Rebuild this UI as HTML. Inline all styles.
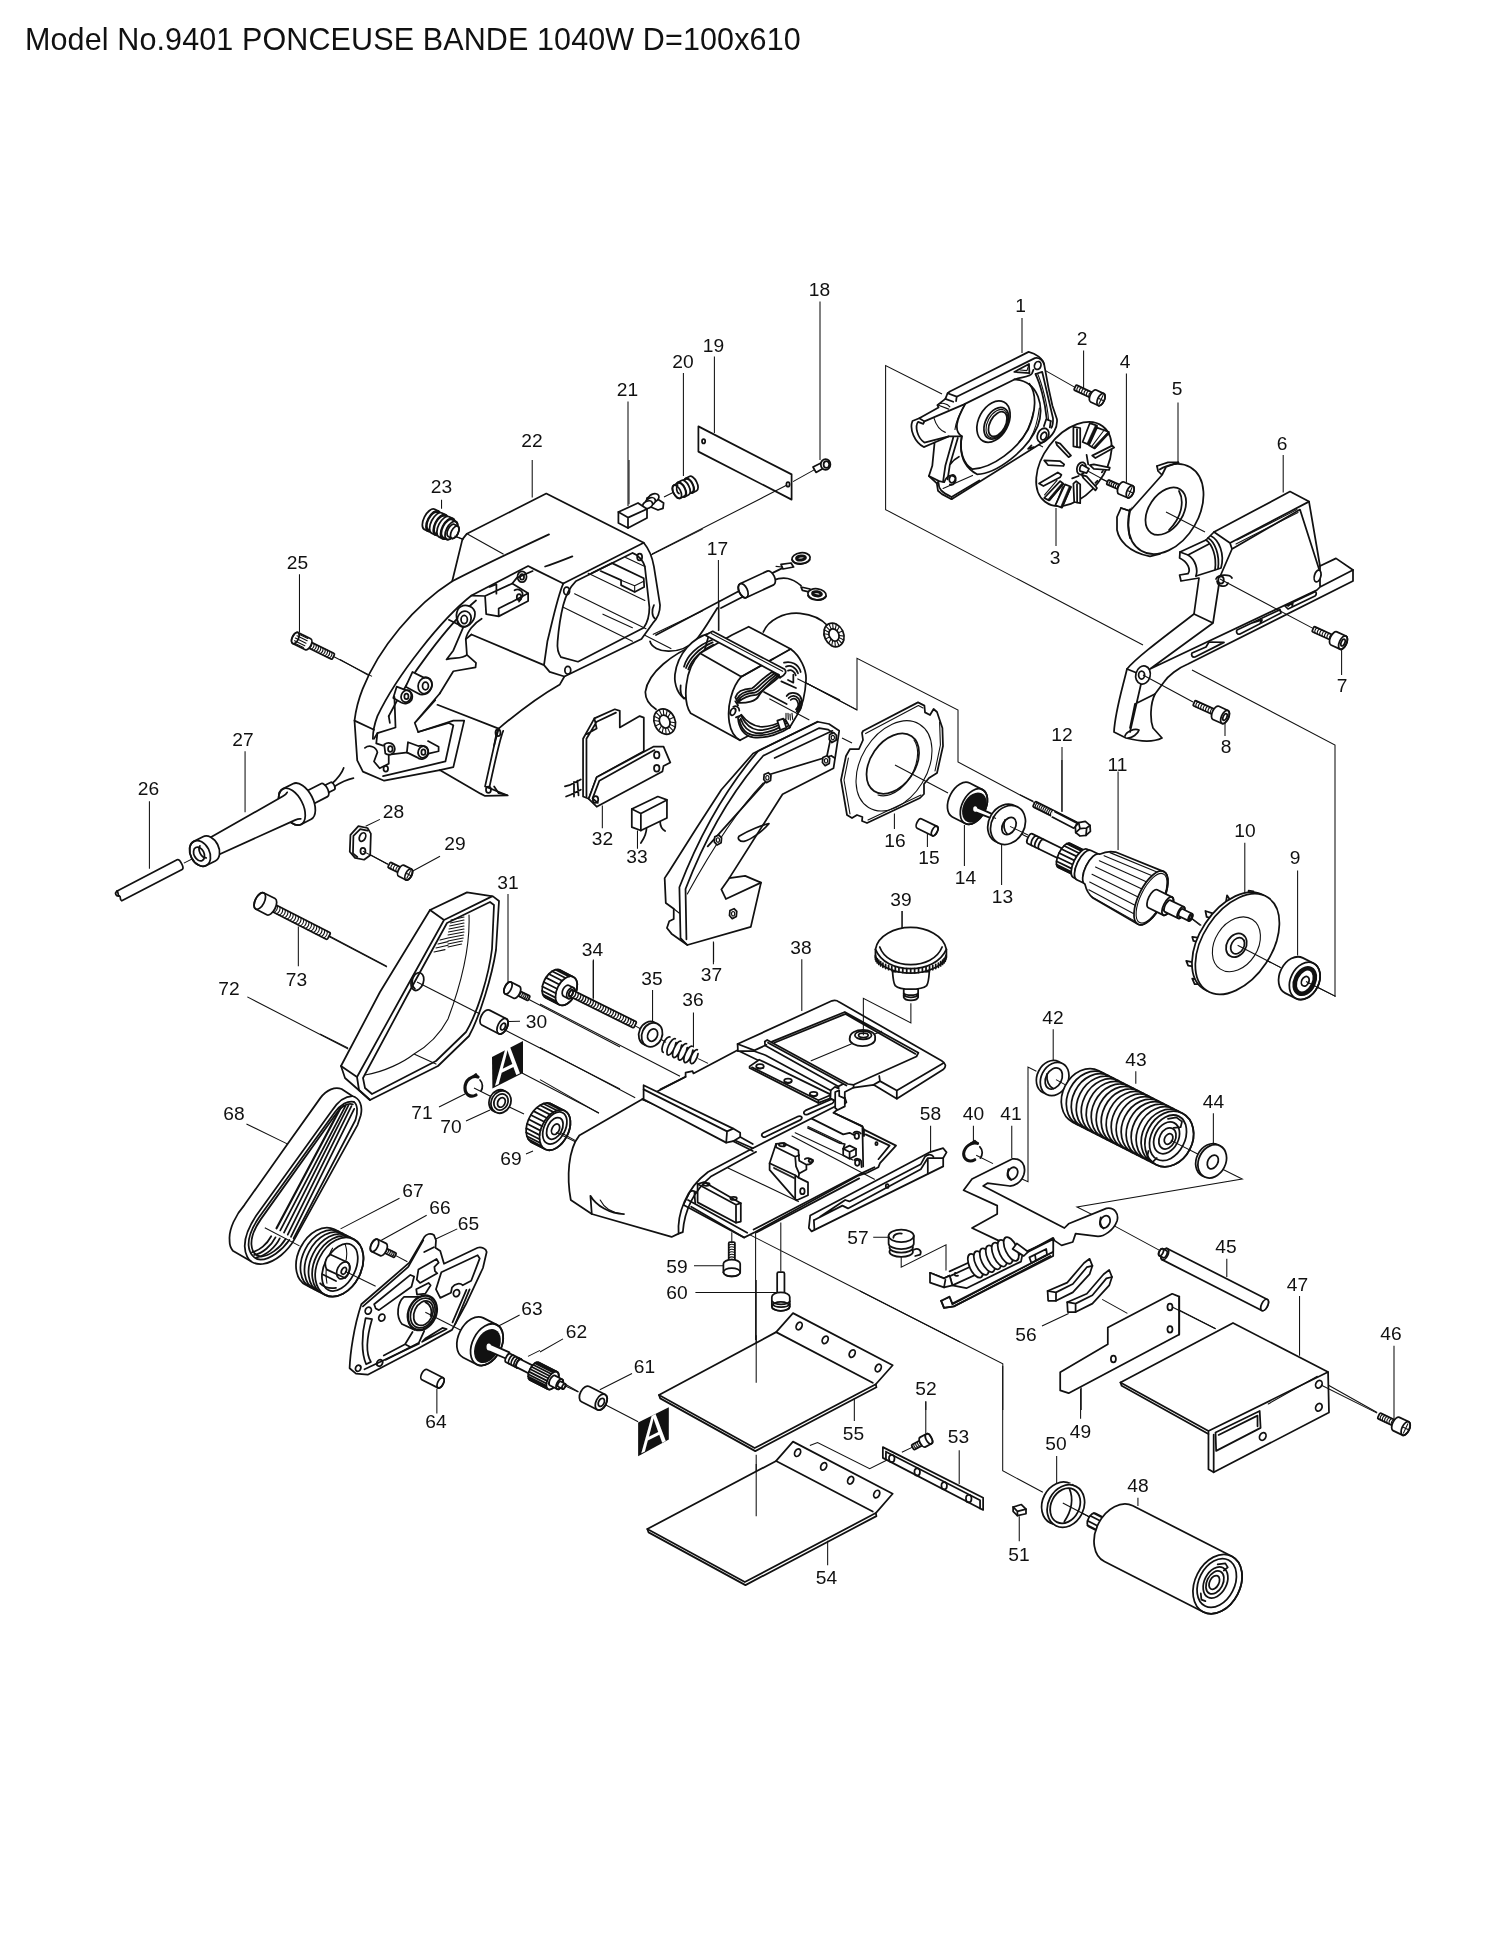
<!DOCTYPE html>
<html lang="fr"><head><meta charset="utf-8"><title>Model No.9401 PONCEUSE BANDE 1040W D=100x610</title>
<style>
html,body{margin:0;padding:0;background:#fff}
body{width:1500px;height:1954px;overflow:hidden;font-family:"Liberation Sans","DejaVu Sans",sans-serif;color:#1a1a1a}
h1{position:absolute;left:25px;top:18.5px;margin:0;font-weight:400;font-size:30.5px;line-height:40px;white-space:nowrap;will-change:transform;letter-spacing:.12px;color:#111}
svg{position:absolute;left:0;top:0;will-change:transform}
svg *{vector-effect:non-scaling-stroke}
.o{fill:#fff;stroke:#111;stroke-width:1.75;stroke-linejoin:round;stroke-linecap:round}
.n{fill:none;stroke:#111;stroke-width:1.75;stroke-linejoin:round;stroke-linecap:round}
.t{fill:none;stroke:#111;stroke-width:1.1;stroke-linejoin:round;stroke-linecap:round}
.tw{fill:#fff;stroke:#111;stroke-width:1.1;stroke-linejoin:round;stroke-linecap:round}
.l{fill:none;stroke:#111;stroke-width:1.05;stroke-linecap:butt}
.k{fill:#111;stroke:#111;stroke-width:.6;stroke-linejoin:round}
.h{fill:none;stroke:#111;stroke-width:2.2;stroke-linecap:round;stroke-linejoin:round}
.b{fill:#111;stroke:none}
.w{fill:#fff;stroke:none}
text{font-family:"Liberation Sans","DejaVu Sans",sans-serif;font-size:19.2px;fill:#111;text-anchor:middle}
</style></head><body>
<h1>Model No.9401 PONCEUSE BANDE 1040W D=100x610</h1>
<svg width="1500" height="1954" viewBox="0 0 1500 1954">
<g transform="translate(880,280) scale(0.2)">
<!-- bracket + leaders -->
<path class="l" d="M310,570 L28,428 L28,1148 L1315,1825"/>
<path class="l" d="M710,190 L710,365 M1018,352 L1018,545 M1232,468 L1232,1012 M880,1140 L880,1330 M1490,612 L1490,915"/>
<path class="l" d="M790,432 L975,537 M585,712 L815,835 M1000,945 L1140,1010"/>
<g transform="translate(975,537) rotate(25.14)">
<path class="o" d="M101.6,-14 L5.6,-14 Q0,-14 0,-8.4 L0,8.4 Q0,14 5.6,14 L101.6,14"/>
<path class="t" d="M16.8,-14 Q7.0,0 16.8,14 M30.1,-14 Q20.3,0 30.1,14 M43.4,-14 Q33.6,0 43.4,14 M56.7,-14 Q46.9,0 56.7,14 M70.0,-14 Q60.2,0 70.0,14 M83.3,-14 Q73.5,0 83.3,14 M96.6,-14 Q86.8,0 96.6,14 "/>
<path class="o" d="M101.6,-33 L143.6,-33 A16.5,33 0 0 1 143.6,33 L101.6,33 A16.5,33 0 0 1 101.6,-33 Z"/>
<ellipse class="n" cx="143.6" cy="0" rx="16.5" ry="33"/>
<path class="t" d="M132.05,0 L155.15,0 M143.6,-23.1 L143.6,23.1"/>
</g>
</g>
<g transform="translate(1100,400) scale(0.2)">
<!-- leaders/axes -->
<path class="l" d="M916,275 L916,462 M1208,1240 L1208,1375 M625,1610 L625,1680"/>
<path class="l" d="M460,1350 L1175,1725 L1175,2982"/>
<!-- part 5 baffle -->
<path class="o" d="M285,330 L340,312 L392,312 L330,340 L310,375 L150,555 L105,540 L85,585 L85,650 C95,700 140,760 250,782 L300,770 Z"/>
<ellipse class="o" cx="329" cy="545" rx="166" ry="242" transform="rotate(30.5 329 545)"/>
<path class="w" d="M300,355 L150,545 L100,500 L250,300 Z"/>
<path class="n" d="M392,312 L330,335 L310,375 L150,555 L105,540 M285,330 L290,355 L310,375 M150,555 C140,600 140,650 150,690"/>
<ellipse class="o" cx="329" cy="556" rx="85" ry="131" transform="rotate(34 329 556)"/>
<path class="n" d="M395,455 C420,500 415,580 345,650"/>
<!-- part 6 handle -->
<path class="o" d="M570,660 L950,458 L1045,508 L1100,830 L1180,792 L1265,850 L1265,905 L440,1320 C390,1340 340,1380 320,1410 L275,1470 C250,1520 250,1600 265,1640 L310,1690 C270,1710 200,1708 130,1690 L70,1660 C75,1560 110,1450 135,1345 C180,1290 300,1200 470,1070 L495,890 L405,905 L398,875 L440,868 C455,850 440,810 398,790 L400,760 L530,700 Z"/>
<path class="n" d="M570,660 L650,715 L1045,508 M650,715 L660,745 L595,895 M660,745 L1000,548 L1095,845"/>
<path class="t" d="M685,700 L985,548 M680,720 L990,562"/>
<path class="n" d="M530,700 C560,720 585,780 575,850 M555,680 C595,700 625,770 605,840 L575,850 L480,880 M540,690 C575,710 600,775 590,845"/>
<path class="n" d="M400,760 L440,775 C480,800 490,850 480,880 M440,775 L545,720"/>
<path class="n" d="M595,920 L565,1115 L470,1070 M565,1115 L250,1345 M1100,830 L1100,935 L1265,850 M1100,935 L1085,950 L250,1345"/>
<ellipse class="o" cx="1088" cy="880" rx="16" ry="30" transform="rotate(15 1088 880)"/>
<path class="n" d="M580,895 C590,870 650,870 660,890 M585,905 C590,935 630,940 640,915"/>
<ellipse class="o" cx="605" cy="900" rx="14" ry="18"/>
<path class="n" d="M925,1030 L1075,958 C1085,960 1082,975 1075,980 L940,1045 Z M940,1030 L965,1010 L960,1035"/>
<path class="n" d="M685,1150 L900,1048 L905,1065 L700,1170 C685,1175 680,1160 685,1150 Z M760,1115 L810,1100 L800,1118"/>
<path class="n" d="M460,1265 L530,1235 L545,1210 L620,1212 L475,1285 C460,1288 455,1275 460,1265 Z"/>
<path class="n" d="M135,1345 L185,1365 M205,1420 L150,1660 M175,1520 L275,1470 M175,1520 L150,1640"/>
<ellipse class="o" cx="215" cy="1375" rx="36" ry="46" transform="rotate(15 215 1375)"/>
<ellipse class="o" cx="208" cy="1375" rx="15" ry="20"/>
<path class="n" d="M125,1680 C130,1660 170,1640 195,1650 C190,1670 160,1690 140,1690"/>
<path class="l" d="M330,560 L525,660 M600,895 L1065,1142 M215,1375 L465,1510"/>
<g transform="translate(1065,1145) rotate(24.39)">
<path class="o" d="M114.694,-14 L5.6,-14 Q0,-14 0,-8.4 L0,8.4 Q0,14 5.6,14 L114.694,14"/>
<path class="t" d="M16.8,-14 Q7.0,0 16.8,14 M30.1,-14 Q20.3,0 30.1,14 M43.4,-14 Q33.6,0 43.4,14 M56.7,-14 Q46.9,0 56.7,14 M70.0,-14 Q60.2,0 70.0,14 M83.3,-14 Q73.5,0 83.3,14 M96.6,-14 Q86.8,0 96.6,14 M109.9,-14 Q100.1,0 109.9,14 "/>
<path class="o" d="M114.694,-36 L164.694,-36 A18,36 0 0 1 164.694,36 L114.694,36 A18,36 0 0 1 114.694,-36 Z"/>
<ellipse class="n" cx="164.694" cy="0" rx="18" ry="36"/>
<ellipse class="n" cx="164.694" cy="0" rx="9" ry="18"/>
</g>
<g transform="translate(470,1515) rotate(24.30)">
<path class="o" d="M120.074,-14 L5.6,-14 Q0,-14 0,-8.4 L0,8.4 Q0,14 5.6,14 L120.074,14"/>
<path class="t" d="M16.8,-14 Q7.0,0 16.8,14 M30.1,-14 Q20.3,0 30.1,14 M43.4,-14 Q33.6,0 43.4,14 M56.7,-14 Q46.9,0 56.7,14 M70.0,-14 Q60.2,0 70.0,14 M83.3,-14 Q73.5,0 83.3,14 M96.6,-14 Q86.8,0 96.6,14 M109.9,-14 Q100.1,0 109.9,14 "/>
<path class="o" d="M120.074,-36 L170.074,-36 A18,36 0 0 1 170.074,36 L120.074,36 A18,36 0 0 1 120.074,-36 Z"/>
<ellipse class="n" cx="170.074" cy="0" rx="18" ry="36"/>
<ellipse class="n" cx="170.074" cy="0" rx="9" ry="18"/>
</g>
</g>
<g transform="translate(1000,760) scale(0.24)">
<path class="l" d="M1020,345 L1020,555 M1240,460 L1240,815 M492,48 L492,375 M258,0 L258,215"/>
<path class="l" d="M1398,985 L1290,930 M990,772 L1170,865 M790,655 L835,690"/>
<!-- part 10 -->
<g transform="translate(-14,-7)">
<path class="o" transform="translate(20,6)" d="M940,565 L950,580 L965,588 L958,600 L935,595 Z M850,630 L880,640 L872,660 L855,655 Z M795,738 L825,742 L822,760 L800,755 Z M770,838 L805,845 L805,862 L778,858 Z M795,912 L825,915 L830,935 L805,935 Z M1030,545 L1050,548 L1050,560 L1030,560 Z"/>
<ellipse class="o" cx="989" cy="767" rx="143.5" ry="232" transform="rotate(33.4 989 767)"/>
</g>
<ellipse class="o" cx="989" cy="767" rx="143.5" ry="232" transform="rotate(33.4 989 767)"/>
<ellipse class="t" cx="985" cy="768" rx="89" ry="123" transform="rotate(32.8 985 768)"/>
<ellipse class="n" cx="985" cy="772" rx="40" ry="52" transform="rotate(30 985 772)"/>
<ellipse class="n" cx="990" cy="774" rx="26" ry="36" transform="rotate(30 990 774)"/>
<path class="l" d="M990,772 L1170,865"/>
<!-- part 9 bearing -->
<g transform="translate(1225,898) rotate(26.5)">
<path class="o" d="M0,-82 L50,-82 A59.04,82 0 0 1 50,82 L0,82 A59.04,82 0 0 1 0,-82 Z"/>
<ellipse class="n" cx="50" cy="0" rx="59.04" ry="82"/>
</g>
<ellipse cx="1270" cy="921" rx="38" ry="56" transform="rotate(26.5 1270 921)" style="fill:#fff;stroke:#111;stroke-width:4.6"/>
<ellipse class="o" cx="1272" cy="922" rx="15" ry="21" transform="rotate(26.5 1272 922)"/>
<path class="l" d="M1398,985 L1275,923"/>
</g>
<g transform="translate(1020,780) scale(0.133333)">
<path class="l" d="M0,110 L100,160 M0,400 L70,435"/>
<!-- part 12 bolt -->
<g transform="translate(105,180) rotate(26.63)">
<path class="o" d="M374.765,-22 L8.8,-22 Q0,-22 0,-13.2 L0,13.2 Q0,22 8.8,22 L374.765,22"/>
<path class="t" d="M21.5,-22 Q6.1,0 21.5,22 M37.5,-22 Q22.1,0 37.5,22 M53.5,-22 Q38.1,0 53.5,22 M69.5,-22 Q54.1,0 69.5,22 M85.5,-22 Q70.1,0 85.5,22 M101.5,-22 Q86.1,0 101.5,22 M117.5,-22 Q102.1,0 117.5,22 M133.5,-22 Q118.1,0 133.5,22 M149.5,-22 Q134.1,0 149.5,22 M165.5,-22 Q150.1,0 165.5,22 M181.5,-22 Q166.1,0 181.5,22 M197.5,-22 Q182.1,0 197.5,22 M213.5,-22 Q198.1,0 213.5,22 M229.5,-22 Q214.1,0 229.5,22 M245.5,-22 Q230.1,0 245.5,22 M261.5,-22 Q246.1,0 261.5,22 M277.5,-22 Q262.1,0 277.5,22 M293.5,-22 Q278.1,0 293.5,22 M309.5,-22 Q294.1,0 309.5,22 M325.5,-22 Q310.1,0 325.5,22 M341.5,-22 Q326.1,0 341.5,22 M357.5,-22 Q342.1,0 357.5,22 M373.5,-22 Q358.1,0 373.5,22 "/>
<path class="o" d="M374.765,-22 L374.765,-22 A11,22 0 0 1 374.765,22 L374.765,22 A11,22 0 0 1 374.765,-22 Z"/>
<ellipse class="n" cx="374.765" cy="0" rx="11" ry="22"/>
</g>
<path class="w" d="M250,230 L420,320 L400,360 L230,275 Z"/>
<path class="n" d="M262,238 L425,322 M242,278 L400,360"/>
<path class="o" d="M440,320 L490,310 L525,340 L528,385 L495,415 L450,420 L418,395 L415,350 Z"/>
<path class="n" d="M440,320 L450,365 L418,395 M450,365 L500,360 L525,340 M500,360 L495,415"/>
<!-- part 11 armature -->
<g transform="translate(75,440) rotate(26.1)">
<path class="o" d="M0,-40 L300,-40 A16.8,40 0 0 1 300,40 L0,40 A16.8,40 0 0 1 0,-40 Z"/>
<ellipse class="n" cx="300" cy="0" rx="16.8" ry="40"/>
</g>
<g transform="translate(75,440) rotate(26.1)"><path class="n" d="M35,-40 A16.8,40 0 0 0 35,40 M65,-40 A16.8,40 0 0 0 65,40 M95,-40 A16.8,40 0 0 0 95,40 "/></g>
<g transform="translate(75,440) rotate(26.1)">
<path class="o" d="M285,-100 L420,-100 A42,100 0 0 1 420,100 L285,100 A42,100 0 0 1 285,-100 Z"/>
<ellipse class="n" cx="420" cy="0" rx="42" ry="100"/>
</g>
<g transform="translate(75,440) rotate(26.1)"><path class="n" d="M277.7,-98.5 L412.7,-98.5 M264.0,-86.6 L399.0,-86.6 M252.8,-64.3 L387.8,-64.3 M245.5,-34.2 L380.5,-34.2 M243.0,0.0 L378.0,0.0 M245.5,34.2 L380.5,34.2 M252.8,64.3 L387.8,64.3 M264.0,86.6 L399.0,86.6 M277.7,98.5 L412.7,98.5 "/></g>
<g transform="translate(75,440) rotate(26.1)">
<path class="o" d="M420,-118 L450,-118 A49.56,118 0 0 1 450,118 L420,118 A49.56,118 0 0 1 420,-118 Z"/>
<ellipse class="n" cx="450" cy="0" rx="49.56" ry="118"/>
<path class="o" d="M450,-122 L520,-122 A51.24,122 0 0 1 520,122 L450,122 A51.24,122 0 0 1 450,-122 Z"/>
<ellipse class="n" cx="520" cy="0" rx="51.24" ry="122"/>
</g>
<g transform="translate(75,440) rotate(26.1)">
<path class="o" d="M520,-125 C540,-150 570,-180 620,-192 L1010,-220 A92,220 0 0 1 1010,220 L620,192 C570,180 540,150 520,125 A52,125 0 0 1 520,-125 Z"/>
<ellipse class="n" cx="1010" cy="0" rx="92" ry="220"/>
<ellipse class="t" cx="1015" cy="0" rx="82" ry="203"/>
<path class="t" d="M585,-170 L965,-194 M555,-130 L940,-153 M540,-80 L925,-94 M535,-25 L920,-30 M535,35 L920,36 M545,95 L927,102 M565,150 L943,163 M610,188 L975,209"/>
</g>
<g transform="translate(75,440) rotate(26.1)">
<path class="o" d="M1025,-75 L1150,-75 A31.5,75 0 0 1 1150,75 L1025,75 A31.5,75 0 0 1 1025,-75 Z"/>
<ellipse class="n" cx="1150" cy="0" rx="31.5" ry="75"/>
<path class="o" d="M1150,-48 L1260,-48 A20.16,48 0 0 1 1260,48 L1150,48 A20.16,48 0 0 1 1150,-48 Z"/>
<ellipse class="n" cx="1260" cy="0" rx="20.16" ry="48"/>
<path class="o" d="M1260,-30 L1340,-30 A12.6,30 0 0 1 1340,30 L1260,30 A12.6,30 0 0 1 1260,-30 Z"/>
<ellipse class="n" cx="1340" cy="0" rx="12.6" ry="30"/>
</g>
<g transform="translate(75,440) rotate(26.1)"><ellipse class="n" cx="1340" cy="0" rx="8" ry="18"/></g>
<path class="l" d="M1285,1035 L1360,1090"/>
</g>
<g transform="translate(820,640) scale(0.2)">
<path class="l" d="M-125,185 L185,350 L185,92 L690,350 L690,610 L1070,812"/>
<path class="l" d="M372,868 L372,945 M537,968 L537,1035 M722,925 L722,1130 M908,1025 L908,1225 M1210,535 L1210,860 M410,1355 L410,1440"/>
<path class="l" d="M110,490 L160,515"/>
<!-- part 16 -->
<path class="o" d="M215,455 L490,312 L522,328 L525,362 L550,375 L568,345 L585,360 L612,440 L615,530 L585,665 L545,690 L520,720 L520,770 L500,790 L235,915 L210,905 L212,885 L185,875 L160,890 L135,875 L105,700 L130,580 L150,545 L195,545 L215,500 L210,465 Z"/>
<path class="t" d="M228,468 L492,328 L515,340 M598,410 L602,525 L575,655 M240,900 L505,775 M150,870 L120,700 L142,590"/>
<ellipse class="t" cx="370" cy="629" rx="165" ry="244" transform="rotate(31.5 370 629)"/>
<ellipse class="n" cx="364" cy="618" rx="111" ry="166" transform="rotate(34.6 364 618)"/>
<path class="t" d="M470,500 C510,560 480,680 400,745 C360,775 320,785 290,775"/>
<path class="l" d="M375,625 L640,765"/>
<!-- part 15 pin -->
<g transform="translate(497,918) rotate(26)">
<path class="o" d="M0,-26 L85,-26 A13,26 0 0 1 85,26 L0,26 A13,26 0 0 1 0,-26 Z"/>
<ellipse class="n" cx="85" cy="0" rx="13" ry="26"/>
</g>
<!-- part 14 -->
<g transform="translate(705,800) rotate(27)">
<path class="o" d="M0,-95 L72,-95 A58.9,95 0 0 1 72,95 L0,95 A58.9,95 0 0 1 0,-95 Z"/>
<ellipse class="n" cx="72" cy="0" rx="58.9" ry="95"/>
</g>
<ellipse class="b" cx="772" cy="838" rx="56" ry="80" transform="rotate(27 772 838)"/>
<path class="o" d="M775,832 L865,872 L858,892 L770,858 Z"/>
<ellipse class="w" cx="776" cy="845" rx="10" ry="14"/>
<!-- part 13 washer -->
<g transform="translate(-14,-7)"><ellipse class="o" cx="940" cy="925" rx="82" ry="102" transform="rotate(30 940 925)"/></g>
<ellipse class="o" cx="940" cy="925" rx="82" ry="102" transform="rotate(30 940 925)"/>
<ellipse class="n" cx="945" cy="930" rx="32" ry="46" transform="rotate(30 945 930)"/>
<path class="n" d="M925,900 C915,925 920,955 935,968"/>
<path class="l" d="M862,885 L880,893 M950,932 L1040,975"/>
</g>
<g transform="translate(620,520) scale(0.2)">
<path class="l" d="M492,200 L492,555"/>
<path class="l" d="M875,785 L1185,950"/>
<!-- wires from choke -->
<path class="n" d="M600,352 L180,575 M612,385 L505,440"/>
<path class="n" d="M748,272 L830,232 M765,302 C820,280 860,290 905,328"/>
<!-- choke -->
<g transform="translate(752,290) rotate(155)">
<path class="o" d="M0,-38 L150,-38 A20.9,38 0 0 1 150,38 L0,38 A20.9,38 0 0 1 0,-38 Z"/>
<ellipse class="n" cx="150" cy="0" rx="20.9" ry="38"/>
</g>
<!-- ring terminals -->
<path class="o" d="M805,222 L855,215 L868,235 L815,245 Z"/><path class="t" d="M780,232 L810,235"/>
<ellipse class="o" cx="905" cy="192" rx="46" ry="28" transform="rotate(-8 905 192)"/>
<ellipse cx="905" cy="190" rx="22" ry="10" transform="rotate(-8 905 190)" style="fill:#fff;stroke:#111;stroke-width:3"/>
<path class="n" d="M862,200 C870,222 930,225 948,200"/>
<path class="o" d="M905,335 L950,345 L955,362 L912,352 Z"/>
<ellipse class="o" cx="985" cy="372" rx="46" ry="28" transform="rotate(8 985 372)"/>
<ellipse cx="985" cy="369" rx="22" ry="10" transform="rotate(8 985 369)" style="fill:#fff;stroke:#111;stroke-width:3"/>
<path class="n" d="M940,378 C950,402 1010,408 1030,382"/>
</g>
<g transform="translate(640,600) scale(0.133333)">
<!-- wires behind -->
<path class="n" d="M75,310 C100,400 300,420 420,300 C480,230 540,120 580,60"/>
<path class="n" d="M430,330 C250,400 60,540 40,690 C40,760 90,800 120,820"/>
<path class="n" d="M925,240 C960,150 1080,90 1200,100 C1300,110 1370,150 1410,195"/>
<!-- rear coil end -->
<path class="o" d="M520,250 C400,280 280,400 262,560 C255,640 290,720 340,740 L450,500 Z"/>
<path class="n" d="M330,500 C350,420 430,340 540,300 M345,510 C370,440 440,360 545,318 M362,520 C385,455 450,385 550,335"/>
<path class="n" d="M305,640 C300,680 310,720 330,740"/>
<!-- body -->
<path class="o" d="M450,400 L690,262 L815,200 L1130,368 C1200,420 1250,520 1245,600 C1240,700 1215,800 1180,860 L1120,960 L810,1020 L750,1052 L380,850 C320,760 330,520 450,400 Z"/>
<path class="n" d="M450,400 L760,575 L1000,440 L1130,368 M760,575 C690,650 650,800 670,920 C680,980 710,1030 750,1052"/>
<path class="t" d="M1000,440 L1130,368"/>
<!-- front ring inner -->
<path class="n" d="M760,575 L1000,440 M715,760 L735,790 M700,800 C720,790 745,800 745,830 M720,880 L745,870"/>
<ellipse class="n" cx="697" cy="838" rx="18" ry="28" transform="rotate(25 697 838)"/>
<!-- inner cavity -->
<path class="n" d="M930,690 L1100,780 M1060,610 L1170,660 M1110,600 L1150,620 L1150,560"/>
<!-- top coil -->
<path class="o" d="M715,730 C730,690 760,668 840,662 C870,650 880,615 990,540 L1045,575 C980,640 920,660 890,720 C870,760 800,775 735,772 Z"/>
<path class="n" d="M728,742 C745,705 775,685 850,678 C885,665 895,632 1002,555 M735,755 C755,722 790,700 860,695 C900,682 910,648 1015,565 M738,766 C765,740 800,718 870,712 C910,700 925,662 1030,572"/>
<!-- bottom coil -->
<path class="o" d="M735,885 C740,960 780,1020 850,1030 C950,1040 1060,1000 1125,955 L1090,895 C1040,930 960,955 900,950 C840,940 790,900 760,860 Z"/>
<path class="n" d="M745,900 C760,970 800,1010 860,1015 C950,1022 1050,985 1110,945 M755,890 C775,950 815,990 870,998 C950,1005 1040,965 1100,925 M762,875 C790,930 830,968 885,975 C950,980 1035,945 1095,910"/>
<path class="o" d="M1030,905 L1075,890 L1098,958 L1052,975 Z"/>
<!-- right coil -->
<path class="n" d="M1100,720 C1120,690 1170,690 1200,720 C1225,760 1215,820 1180,850 M1115,735 C1135,712 1170,712 1190,740 C1208,770 1200,810 1175,835 M1130,750 C1145,735 1168,735 1180,758 C1192,780 1186,805 1170,820"/>
<path class="n" d="M1080,470 C1130,455 1190,480 1205,540 M1095,500 C1130,485 1170,505 1185,550 M1110,530 C1135,520 1160,535 1168,565"/>
<path class="t" d="M1095,850 L1095,890 M1110,850 L1112,895 M1125,855 L1128,900 M1140,850 L1145,895"/>
<!-- strap -->
<path class="o" d="M490,265 L545,235 L1085,520 C1100,535 1095,560 1050,582 L1040,560 Z"/>
<path class="t" d="M535,252 L1070,535"/>
<path class="n" d="M1040,560 L1050,582"/>
<!-- axis lines -->
<path class="l" d="M970,740 L1270,900 M1180,590 L1500,750 M-100,195 L235,365"/>
<path class="l" d="M592,0 L592,230"/>
<!-- star washers -->
<g transform="translate(185,912) rotate(-25)"><ellipse class="o" cx="0" cy="0" rx="78" ry="98"/><ellipse class="o" cx="0" cy="0" rx="38" ry="50"/><path class="t" d="M40,0 L76,0 M-40,0 L-76,0 M0,52 L0,96 M0,-52 L0,-96 M28,36 L54,70 M-28,36 L-54,70 M28,-36 L54,-70 M-28,-36 L-54,-70 M36,20 L70,42 M-36,20 L-70,42 M36,-20 L70,-42 M-36,-20 L-70,-42 M15,48 L30,90 M-15,48 L-30,90 M15,-48 L30,-90 M-15,-48 L-30,-90"/></g>
<g transform="translate(1455,262) rotate(-25)"><ellipse class="o" cx="0" cy="0" rx="72" ry="92"/><ellipse class="o" cx="0" cy="0" rx="36" ry="48"/><path class="t" d="M38,0 L70,0 M-38,0 L-70,0 M0,50 L0,90 M0,-50 L0,-90 M27,35 L50,66 M-27,35 L-50,66 M27,-35 L50,-66 M-27,-35 L-50,-66 M34,20 L64,40 M-34,20 L-64,40 M34,-20 L64,-40 M-34,-20 L-64,-40 M14,46 L28,84 M-14,46 L-28,84 M14,-46 L28,-84 M-14,-46 L-28,-84"/></g>
</g>
<g transform="translate(340,460) scale(0.226667)">
<path class="l" d="M848,0 L848,165 M1275,0 L1275,195 M448,175 L448,215"/>
<path class="l" d="M1370,420 L1600,305 M1380,770 L1600,665 M0,880 L135,955 M505,335 L545,350"/>
<!-- housing 22 -->
<path class="o" d="M910,148 L1340,365 C1365,395 1378,430 1385,470 L1412,640 C1412,680 1400,700 1380,720 L1330,790 L990,955 L970,990 C900,1030 800,1100 700,1185 L680,1260 L640,1440 L740,1480 L640,1482 L620,1472 L440,1368 L195,1415 L101,1375 L76,1325 L64,1150 C70,1100 80,1060 100,1010 C170,830 330,640 495,535 L540,350 L560,325 Z"/>
<path class="t" d="M560,325 L720,415"/><path class="n" d="M64,1150 L150,1190"/>
<path class="n" d="M495,535 C600,480 800,385 922,328 M905,470 C950,455 1000,435 1025,425"/>
<path class="n" d="M850,478 L985,545 L1340,365 M850,478 L830,468 L580,598 C450,700 250,950 165,1130 C150,1170 145,1200 145,1230"/>
<path class="n" d="M985,545 C960,600 935,720 915,800 L900,905 L925,935 L990,955 M900,905 L580,770"/>
<path class="n" d="M1040,535 L1290,410 C1320,420 1340,450 1345,470 L1365,650 C1365,690 1355,720 1340,740 L1050,890 L975,870 C960,850 958,820 960,800 C965,740 975,680 985,640 C995,600 1015,560 1040,535 Z"/>
<path class="t" d="M1035,590 L1350,745 M985,650 L1290,800 M1160,680 L1290,740 M1095,500 L1345,620"/>
<path class="n" d="M1110,500 L1200,455 L1340,522 L1342,560 L1300,582 L1240,552 L1240,530 L1150,490"/>
<path class="t" d="M1240,530 L1300,555 L1300,582 M1300,555 L1340,535 M1260,430 L1345,470"/>
<ellipse class="n" cx="1000" cy="578" rx="13" ry="17"/><ellipse class="n" cx="1005" cy="928" rx="13" ry="17"/><ellipse class="n" cx="1322" cy="428" rx="11" ry="15"/>
<path class="n" d="M1385,640 C1375,660 1375,690 1390,700"/>
<!-- left face details -->
<path class="n" d="M600,620 C480,720 300,960 215,1130 M640,600 L580,598 M640,600 L760,545 L830,588 L830,622 L700,690 L645,680 L640,600 M700,690 L700,655 L760,625 L830,588 M660,560 L690,548 L690,590"/>
<path class="n" d="M760,545 L780,520 L850,490 M770,575 C785,565 810,575 805,600 L790,625"/>
<ellipse class="n" cx="790" cy="605" rx="10" ry="13"/>
<ellipse class="n" cx="803" cy="515" rx="20" ry="24"/><ellipse class="n" cx="803" cy="516" rx="9" ry="12"/>
<path class="o" d="M520,660 C540,630 585,640 595,670 C600,700 575,735 545,735 C520,730 505,690 520,660 Z"/>
<ellipse class="n" cx="548" cy="702" rx="30" ry="36" transform="rotate(20 548 702)"/><ellipse class="n" cx="548" cy="704" rx="14" ry="18"/>
<path class="n" d="M480,705 L520,725 M545,735 L500,840 L470,880 C500,870 540,880 560,860 L555,790 C560,760 590,720 625,700 M560,860 L600,895 L598,915 L500,932 L440,1030"/>
<path class="n" d="M580,770 L555,790"/>
<!-- bosses mid -->
<path class="o" d="M320,935 L370,960 C400,955 415,985 400,1010 C390,1035 360,1040 345,1030 L290,1000 Z"/>
<ellipse class="n" cx="375" cy="995" rx="30" ry="36" transform="rotate(20 375 995)"/><ellipse class="n" cx="377" cy="997" rx="13" ry="17"/>
<path class="o" d="M250,1000 L290,1015 C315,1015 325,1040 315,1060 C305,1075 285,1078 270,1070 L235,1050 Z"/>
<ellipse class="n" cx="292" cy="1042" rx="22" ry="27" transform="rotate(20 292 1042)"/><ellipse class="n" cx="293" cy="1043" rx="9" ry="12"/>
<path class="n" d="M440,1030 L330,1160 L345,1200 L500,1150 L548,1150 L500,1355 L440,1368 M430,1080 L700,1185 M330,1160 L420,1060"/>
<path class="n" d="M345,1200 L480,1160 L500,1170 L465,1330 L190,1395"/>
<path class="n" d="M240,1045 L245,1180 L165,1205 L150,1230 M215,1130 L220,1160"/>
<!-- bottom left cluster -->
<path class="n" d="M165,1205 L160,1250 L190,1260 M110,1270 C130,1255 160,1265 165,1290 L150,1330 L175,1360 L215,1340 L215,1300 L300,1290 L345,1310"/>
<path class="o" d="M195,1255 C215,1240 240,1250 242,1275 C240,1300 215,1305 200,1295 Z"/>
<ellipse class="n" cx="222" cy="1275" rx="10" ry="13"/>
<path class="o" d="M300,1245 L345,1262 C375,1255 395,1275 388,1300 C380,1320 355,1325 340,1312 L295,1290 Z"/>
<ellipse class="n" cx="367" cy="1288" rx="22" ry="26" transform="rotate(20 367 1288)"/><ellipse class="n" cx="368" cy="1289" rx="9" ry="12"/>
<ellipse class="n" cx="202" cy="1362" rx="10" ry="13"/>
<path class="n" d="M388,1240 L435,1265 L435,1285 L390,1295"/>
<!-- right lower panel -->
<path class="n" d="M700,1185 C690,1200 685,1230 680,1260 M720,1195 C705,1230 690,1300 660,1440"/>
<ellipse class="n" cx="697" cy="1203" rx="11" ry="15"/><ellipse class="n" cx="655" cy="1455" rx="11" ry="14"/>
<path class="n" d="M680,1440 L700,1470 L735,1478"/>
<!-- part 23 -->
<g transform="translate(395,262) rotate(27)">
<path class="o" d="M0,-50 L18,-50 A25,50 0 0 1 18,50 L0,50 A25,50 0 0 1 0,-50 Z"/>
<ellipse class="n" cx="18" cy="0" rx="25" ry="50"/>
<path class="o" d="M18,-44 L36,-44 A22,44 0 0 1 36,44 L18,44 A22,44 0 0 1 18,-44 Z"/>
<ellipse class="n" cx="36" cy="0" rx="22" ry="44"/>
<path class="o" d="M36,-50 L54,-50 A25,50 0 0 1 54,50 L36,50 A25,50 0 0 1 36,-50 Z"/>
<ellipse class="n" cx="54" cy="0" rx="25" ry="50"/>
<path class="o" d="M54,-44 L72,-44 A22,44 0 0 1 72,44 L54,44 A22,44 0 0 1 54,-44 Z"/>
<ellipse class="n" cx="72" cy="0" rx="22" ry="44"/>
<path class="o" d="M72,-50 L90,-50 A25,50 0 0 1 90,50 L72,50 A25,50 0 0 1 72,-50 Z"/>
<ellipse class="n" cx="90" cy="0" rx="25" ry="50"/>
<path class="o" d="M90,-44 L108,-44 A22,44 0 0 1 108,44 L90,44 A22,44 0 0 1 90,-44 Z"/>
<ellipse class="n" cx="108" cy="0" rx="22" ry="44"/>
<path class="o" d="M108,-30 L125,-30 A15,30 0 0 1 125,30 L108,30 A15,30 0 0 1 108,-30 Z"/>
<ellipse class="n" cx="125" cy="0" rx="15" ry="30"/>
</g>
<path class="l" d="M505,335 L545,352"/>
</g>
<g transform="translate(580,270) scale(0.2)">
<path class="l" d="M1200,158 L1200,950 M672,432 L672,815 M517,515 L517,1030 M240,658 L240,1180"/>
<path class="l" d="M360,1420 L900,1145 M420,1135 L480,1105"/>
<!-- plate 19 -->
<path class="o" d="M592,782 L1058,1022 L1058,1148 L592,908 Z"/>
<ellipse class="n" cx="618" cy="856" rx="8" ry="11"/><ellipse class="n" cx="1040" cy="1072" rx="8" ry="11"/>
<path class="l" d="M900,1145 L1035,1075 M1065,1058 L1175,997"/>
<!-- screw 18 -->
<path class="o" d="M1165,985 L1215,960 L1228,985 L1180,1012 Z"/>
<ellipse class="o" cx="1228" cy="972" rx="24" ry="27"/><ellipse class="n" cx="1232" cy="972" rx="14" ry="17"/>
<!-- part 20 -->
<g transform="translate(565,1068) rotate(153)">
<path class="o" d="M0,-40 L22,-40 A20,40 0 0 1 22,40 L0,40 A20,40 0 0 1 0,-40 Z"/>
<ellipse class="n" cx="22" cy="0" rx="20" ry="40"/>
<path class="o" d="M22,-36 L44,-36 A18,36 0 0 1 44,36 L22,36 A18,36 0 0 1 22,-36 Z"/>
<ellipse class="n" cx="44" cy="0" rx="18" ry="36"/>
<path class="o" d="M44,-40 L66,-40 A20,40 0 0 1 66,40 L44,40 A20,40 0 0 1 44,-40 Z"/>
<ellipse class="n" cx="66" cy="0" rx="20" ry="40"/>
<path class="o" d="M66,-36 L90,-36 A18,36 0 0 1 90,36 L66,36 A18,36 0 0 1 66,-36 Z"/>
<ellipse class="n" cx="90" cy="0" rx="18" ry="36"/>
</g>
<path class="n" d="M488,1075 C480,1090 482,1110 495,1118"/>
<!-- part 21 -->
<path class="o" d="M395,1150 L418,1165 L415,1192 L390,1200 L330,1175 L335,1140 L365,1125 Z"/>
<ellipse class="o" cx="368" cy="1140" rx="28" ry="20" transform="rotate(-25 368 1140)"/>
<ellipse class="o" cx="352" cy="1158" rx="26" ry="18" transform="rotate(-25 352 1158)"/>
<ellipse class="o" cx="338" cy="1174" rx="26" ry="18" transform="rotate(-25 338 1174)"/>
<path class="o" d="M192,1210 L290,1165 L335,1195 L335,1240 L240,1290 L192,1265 Z"/>
<path class="n" d="M192,1210 L240,1238 L335,1195 M240,1238 L240,1290"/>
</g>
<g transform="translate(100,760) scale(0.226667)">
<path class="l" d="M880,-819 L880,-564 M640,-39 L640,231 M218,182 L218,480 M1235,262 L1172,292 M875,735 L875,910 M650,1045 L1095,1275 M1380,490 L1500,425"/>
<path class="l" d="M1030,-457 L1200,-369 M370,455 L430,425 M1160,400 L1270,460 M1010,775 L1265,910"/>
<g transform="translate(1030,-456) rotate(-153.98)">
<path class="o" d="M124.944,-14 L5.6,-14 Q0,-14 0,-8.4 L0,8.4 Q0,14 5.6,14 L124.944,14"/>
<path class="t" d="M14.5,-14 Q4.7,0 14.5,14 M25.5,-14 Q15.7,0 25.5,14 M36.5,-14 Q26.7,0 36.5,14 M47.5,-14 Q37.7,0 47.5,14 M58.5,-14 Q48.7,0 58.5,14 M69.5,-14 Q59.7,0 69.5,14 M80.5,-14 Q70.7,0 80.5,14 M91.5,-14 Q81.7,0 91.5,14 M102.5,-14 Q92.7,0 102.5,14 M113.5,-14 Q103.7,0 113.5,14 "/>
<path class="o" d="M124.944,-27 L186.944,-27 A13.5,27 0 0 1 186.944,27 L124.944,27 A13.5,27 0 0 1 124.944,-27 Z"/>
<ellipse class="n" cx="186.944" cy="0" rx="13.5" ry="27"/>
</g>
<g transform="translate(862,-538) rotate(206)"><path class="t" d="M-50,-22 L-5,-22 M-52,-12 L-2,-12 M-52,0 L0,0 M-52,12 L-2,12 M-50,22 L-5,22"/></g>
<!-- cord 26 -->
<g transform="translate(85,600) rotate(-27.5)">
<path class="o" d="M0,-24 L300,-24 A10,24 0 0 1 300,24 L0,24 C-8,12 8,6 0,0 C-8,-6 8,-14 0,-24 Z"/>
<path class="n" d="M0,-24 C-14,-20 -14,-4 0,0"/>
</g>
<!-- part 27 -->
<path class="n" d="M1020,108 C1050,80 1070,50 1075,35 M1025,122 C1060,100 1090,85 1118,80"/>
<g transform="translate(1025,115) rotate(153)">
<path class="o" d="M0,-18 L40,-18 A9,18 0 0 1 40,18 L0,18 A9,18 0 0 1 0,-18 Z"/>
<ellipse class="n" cx="40" cy="0" rx="9" ry="18"/>
<path class="o" d="M40,-32 L130,-32 A16,32 0 0 1 130,32 L40,32 A16,32 0 0 1 40,-32 Z"/>
<ellipse class="n" cx="130" cy="0" rx="16" ry="32"/>
</g>
<g transform="translate(1025,115) rotate(153)">
<path class="o" d="M150,-88 L200,-88 A48.4,88 0 0 1 200,88 L150,88 A48.4,88 0 0 1 150,-88 Z"/>
<ellipse class="n" cx="200" cy="0" rx="48.4" ry="88"/>
</g>
<g transform="translate(1025,115) rotate(153)"><path class="w" d="M195,-60 L625,-40 L625,40 L195,60 Z"/><path class="n" d="M190,-66 C195,-62 200,-60 215,-59 L625,-40 M190,66 C195,62 200,60 215,59 L625,40"/></g>
<g transform="translate(1025,115) rotate(153)">
<path class="o" d="M610,-60 L655,-60 A42,60 0 0 1 655,60 L610,60 A42,60 0 0 1 610,-60 Z"/>
<ellipse class="n" cx="655" cy="0" rx="42" ry="60"/>
</g>
<g transform="translate(1025,115) rotate(153)"><ellipse class="n" cx="660" cy="0" rx="22" ry="32"/><path class="n" d="M640,-30 A22,32 0 0 1 640,30"/></g>
<!-- part 28 -->
<path class="o" d="M1105,330 L1140,292 L1180,300 L1195,325 L1192,420 L1165,440 L1125,432 L1102,405 Z"/>
<path class="n" d="M1118,335 L1148,305 L1180,312 M1118,335 L1116,412 L1135,428"/>
<ellipse class="n" cx="1158" cy="340" rx="13" ry="20" transform="rotate(25 1158 340)"/><ellipse class="n" cx="1160" cy="402" rx="11" ry="14"/>
<path class="l" d="M1160,402 L1270,460"/>
<g transform="translate(1275,462) rotate(26.30)">
<path class="o" d="M61.0464,-13 L5.2,-13 Q0,-13 0,-7.8 L0,7.8 Q0,13 5.2,13 L61.0464,13"/>
<path class="t" d="M15.6,-13 Q6.5,0 15.6,13 M27.9,-13 Q18.8,0 27.9,13 M40.3,-13 Q31.2,0 40.3,13 M52.6,-13 Q43.5,0 52.6,13 "/>
<path class="o" d="M61.0464,-27 L97.0464,-27 A13.5,27 0 0 1 97.0464,27 L61.0464,27 A13.5,27 0 0 1 61.0464,-27 Z"/>
<ellipse class="n" cx="97.0464" cy="0" rx="13.5" ry="27"/>
<path class="t" d="M87.5964,0 L106.496,0 M97.0464,-18.9 L97.0464,18.9"/>
</g>
<!-- bolt 73 -->
<g transform="translate(1010,778) rotate(-152.91)">
<path class="o" d="M287.58,-17 L6.8,-17 Q0,-17 0,-10.2 L0,10.2 Q0,17 6.8,17 L287.58,17"/>
<path class="t" d="M17.2,-17 Q5.3,0 17.2,17 M30.2,-17 Q18.4,0 30.2,17 M43.2,-17 Q31.4,0 43.2,17 M56.2,-17 Q44.4,0 56.2,17 M69.2,-17 Q57.4,0 69.2,17 M82.2,-17 Q70.3,0 82.2,17 M95.2,-17 Q83.3,0 95.2,17 M108.2,-17 Q96.3,0 108.2,17 M121.2,-17 Q109.3,0 121.2,17 M134.2,-17 Q122.3,0 134.2,17 M147.2,-17 Q135.3,0 147.2,17 M160.2,-17 Q148.3,0 160.2,17 M173.2,-17 Q161.3,0 173.2,17 M186.2,-17 Q174.3,0 186.2,17 M199.2,-17 Q187.3,0 199.2,17 M212.2,-17 Q200.3,0 212.2,17 M225.2,-17 Q213.3,0 225.2,17 M238.2,-17 Q226.3,0 238.2,17 M251.2,-17 Q239.3,0 251.2,17 M264.2,-17 Q252.3,0 264.2,17 M277.2,-17 Q265.4,0 277.2,17 "/>
<path class="o" d="M287.58,-40 L342.58,-40 A20,40 0 0 1 342.58,40 L287.58,40 A20,40 0 0 1 287.58,-40 Z"/>
<ellipse class="n" cx="342.58" cy="0" rx="20" ry="40"/>
</g>
</g>
<g transform="translate(320,880) scale(0.2)">
<path class="l" d="M940,70 L940,515 M1367,398 L1367,590 M945,708 L1000,706 M595,1135 L725,1070 M730,1205 L850,1150 M1030,1370 L1065,1355"/>
<path class="l" d="M40,280 L335,435 M0,770 L140,840"/>
<!-- cover 72 -->
<path class="o" d="M735,62 L865,82 L895,105 L880,350 C860,480 800,680 745,780 L590,930 L250,1100 L125,990 L105,930 L300,560 L550,150 Z"/>
<path class="n" d="M860,82 L620,200 L420,560 L185,985 L195,1050 L250,1100 M550,150 L620,200 M105,930 L185,985"/>
<path class="n" d="M850,110 L870,125 L860,345 C845,470 790,660 730,760 L580,905 L260,1070 L225,1040 L215,990 L440,570 L635,215 Z"/>
<path class="t" d="M745,175 C750,300 720,480 640,695 C600,770 540,830 470,870 L580,920 M225,975 C320,960 420,910 470,870"/>
<path class="t" d="M655,200 L720,185 M652,215 L720,200 M648,230 L720,215 M645,245 L720,230 M642,260 L720,245 M640,275 L720,260 M640,290 L718,275 M640,305 L716,290 M640,320 L712,305 M640,335 L708,320 M600,300 L640,290 M590,320 L640,308 M580,340 L640,326 M570,360 L625,348"/>
<ellipse class="n" cx="487" cy="508" rx="30" ry="46" transform="rotate(20 487 508)"/>
<path class="n" d="M470,480 C455,500 458,530 475,545"/>
<path class="l" d="M485,510 L800,670"/>
<!-- spacer 30 -->
<g transform="translate(828,688) rotate(27)">
<path class="o" d="M0,-42 L95,-42 A23.1,42 0 0 1 95,42 L0,42 A23.1,42 0 0 1 0,-42 Z"/>
<ellipse class="n" cx="95" cy="0" rx="23.1" ry="42"/>
</g>
<ellipse class="n" cx="915" cy="733" rx="11" ry="18" transform="rotate(27 915 733)"/>
<path class="l" d="M915,745 L1500,1045 M1040,595 L1500,835 M1010,965 L1395,1165"/>
<!-- screw 31 -->
<g transform="translate(1045,592) rotate(-153.65)">
<path class="o" d="M69.1708,-13 L5.2,-13 Q0,-13 0,-7.8 L0,7.8 Q0,13 5.2,13 L69.1708,13"/>
<path class="t" d="M13.2,-13 Q4.1,0 13.2,13 M23.2,-13 Q14.1,0 23.2,13 M33.2,-13 Q24.1,0 33.2,13 M43.2,-13 Q34.1,0 43.2,13 M53.2,-13 Q44.1,0 53.2,13 M63.2,-13 Q54.1,0 63.2,13 "/>
<path class="o" d="M69.1708,-33 L117.171,-33 A16.5,33 0 0 1 117.171,33 L69.1708,33 A16.5,33 0 0 1 69.1708,-33 Z"/>
<ellipse class="n" cx="117.171" cy="0" rx="16.5" ry="33"/>
</g>
<!-- knob 34 -->
<g transform="translate(1165,520) rotate(27)">
<path class="o" d="M0,-78 L75,-78 A46.8,78 0 0 1 75,78 L0,78 A46.8,78 0 0 1 0,-78 Z"/>
<ellipse class="n" cx="75" cy="0" rx="46.8" ry="78"/>
</g>
<g transform="translate(1165,520) rotate(27)"><path class="n" d="M-7.3,-77.0 L67.7,-77.0 M-21.2,-69.5 L53.8,-69.5 M-33.1,-55.2 L41.9,-55.2 M-41.7,-35.4 L33.3,-35.4 M-46.2,-12.2 L28.8,-12.2 M-46.2,12.2 L28.8,12.2 M-41.7,35.4 L33.3,35.4 M-33.1,55.2 L41.9,55.2 M-21.2,69.5 L53.8,69.5 M-7.3,77.0 L67.7,77.0 "/></g>
<g transform="translate(1165,520) rotate(27)">
<path class="o" d="M75,-30 L100,-30 A18,30 0 0 1 100,30 L75,30 A18,30 0 0 1 75,-30 Z"/>
<ellipse class="n" cx="100" cy="0" rx="18" ry="30"/>
</g>
<g transform="translate(1576,725) rotate(-153.65)">
<path class="o" d="M358.221,-17 L6.8,-17 Q0,-17 0,-10.2 L0,10.2 Q0,17 6.8,17 L358.221,17"/>
<path class="t" d="M18.2,-17 Q6.3,0 18.2,17 M32.2,-17 Q20.4,0 32.2,17 M46.2,-17 Q34.4,0 46.2,17 M60.2,-17 Q48.4,0 60.2,17 M74.2,-17 Q62.4,0 74.2,17 M88.2,-17 Q76.3,0 88.2,17 M102.2,-17 Q90.3,0 102.2,17 M116.2,-17 Q104.3,0 116.2,17 M130.2,-17 Q118.3,0 130.2,17 M144.2,-17 Q132.3,0 144.2,17 M158.2,-17 Q146.3,0 158.2,17 M172.2,-17 Q160.3,0 172.2,17 M186.2,-17 Q174.3,0 186.2,17 M200.2,-17 Q188.3,0 200.2,17 M214.2,-17 Q202.3,0 214.2,17 M228.2,-17 Q216.3,0 228.2,17 M242.2,-17 Q230.3,0 242.2,17 M256.2,-17 Q244.3,0 256.2,17 M270.2,-17 Q258.4,0 270.2,17 M284.2,-17 Q272.4,0 284.2,17 M298.2,-17 Q286.4,0 298.2,17 M312.2,-17 Q300.4,0 312.2,17 M326.2,-17 Q314.4,0 326.2,17 M340.2,-17 Q328.4,0 340.2,17 M354.2,-17 Q342.4,0 354.2,17 "/>
<path class="o" d="M358.221,-17 L358.221,-17 A8.5,17 0 0 1 358.221,17 L358.221,17 A8.5,17 0 0 1 358.221,-17 Z"/>
<ellipse class="n" cx="358.221" cy="0" rx="8.5" ry="17"/>
</g>
<!-- A box -->
<path class="b" d="M860,885 L1015,805 L1015,965 L862,1042 Z"/>
<text transform="matrix(0.96,-0.48,0,1.22,937,997)" x="0" y="0" style="fill:#fff;font-size:195px;text-anchor:middle">A</text>
<!-- E ring 71 -->
<path d="M790,985 C760,975 725,1000 725,1040 C725,1075 755,1090 780,1075" style="fill:none;stroke:#111;stroke-width:3.2;stroke-linecap:round"/>
<path class="n" d="M760,985 L780,970 L790,985 M800,1000 C815,1015 815,1040 805,1055"/>
<path class="l" d="M770,1040 L870,1090 M905,1115 L1020,1170"/>
<!-- washer 70 -->
<g transform="translate(-10,-5)"><ellipse class="o" cx="905" cy="1110" rx="48" ry="58" transform="rotate(27 905 1110)"/></g>
<ellipse class="o" cx="905" cy="1110" rx="48" ry="58" transform="rotate(27 905 1110)"/>
<ellipse class="n" cx="905" cy="1110" rx="34" ry="42" transform="rotate(27 905 1110)"/>
<ellipse class="n" cx="907" cy="1112" rx="18" ry="25" transform="rotate(27 907 1112)"/>
<!-- pulley 69 -->
<g transform="translate(1108,1216) rotate(27)">
<path class="o" d="M0,-108 L75,-108 A66.96,108 0 0 1 75,108 L0,108 A66.96,108 0 0 1 0,-108 Z"/>
<ellipse class="n" cx="75" cy="0" rx="66.96" ry="108"/>
</g>
<g transform="translate(1108,1216) rotate(27)"><path class="n" d="M-7.5,-107.3 L67.5,-107.3 M-22.1,-101.9 L52.9,-101.9 M-35.6,-91.4 L39.4,-91.4 M-47.3,-76.4 L27.7,-76.4 M-56.7,-57.5 L18.3,-57.5 M-63.2,-35.7 L11.8,-35.7 M-66.5,-12.1 L8.5,-12.1 M-66.5,12.1 L8.5,12.1 M-63.2,35.7 L11.8,35.7 M-56.7,57.5 L18.3,57.5 M-47.3,76.4 L27.7,76.4 M-35.6,91.4 L39.4,91.4 M-22.1,101.9 L52.9,101.9 M-7.5,107.3 L67.5,107.3 "/></g>
<ellipse class="n" cx="1174" cy="1240" rx="52" ry="86" transform="rotate(27 1174 1240)"/>
<ellipse class="n" cx="1174" cy="1242" rx="36" ry="58" transform="rotate(27 1174 1242)"/>
<ellipse class="n" cx="1178" cy="1246" rx="18" ry="28" transform="rotate(27 1178 1246)"/>
<path class="l" d="M1180,1262 L1290,1315"/>
</g>
<g transform="translate(200,1060) scale(0.226667)">
<path class="l" d="M205,282 L385,370 M880,610 L620,745 M1000,685 L800,795 M1135,745 L1040,790 M1410,1125 L1315,1175 M1045,1450 L1045,1560"/>
<!-- belt 68 -->
<g transform="translate(88.235,88.235) scale(0.470588)">
<path class="o" d="M90,1500 C80,1400 150,1260 230,1170 L640,590 L940,170 C1000,90 1080,60 1140,85 L1240,150 C1310,170 1340,240 1320,330 L1290,420 L700,1490 C640,1600 520,1710 400,1725 C350,1730 310,1715 290,1700 L120,1600 C95,1570 88,1540 90,1500 Z"/>
<path class="n" d="M1240,150 C1180,150 1110,195 1050,285 L340,1270 C280,1360 230,1470 232,1560 C235,1640 270,1690 290,1700"/>
<path class="n" d="M1255,205 C1200,190 1130,230 1075,305 L365,1290 C310,1370 265,1470 268,1550 C275,1630 320,1680 380,1685 C470,1680 580,1600 650,1500"/>
<path class="n" d="M1245,228 C1195,215 1135,250 1085,322 L385,1302 C330,1380 290,1470 295,1545 C300,1610 335,1650 385,1655 C460,1650 560,1580 615,1490"/>
<path class="n" d="M1255,205 C1290,230 1295,300 1270,375 L690,1485"/>
<path class="h" d="M1130,262 L530,1390"/>
<path class="n" d="M1150,250 C1160,240 1170,238 1178,240 L565,1410 M1205,235 L600,1430 M1232,245 L635,1450 M1258,270 L665,1470"/>
<path class="n" d="M480,1465 C440,1540 370,1600 300,1615 M520,1475 C480,1555 400,1625 320,1640 M560,1485 C520,1570 430,1645 345,1662"/>
<path class="l" d="M420,1385 L745,1555"/>
</g>
<!-- pulley 67 -->
<g transform="translate(530,870) rotate(27)">
<path class="o" d="M0,-138 L95,-138 A96.6,138 0 0 1 95,138 L0,138 A96.6,138 0 0 1 0,-138 Z"/>
<ellipse class="n" cx="95" cy="0" rx="96.6" ry="138"/>
</g>
<g transform="translate(530,870) rotate(27)"><path class="n" d="M22,-138 A96.6,138 0 0 0 22,138 M42,-138 A96.6,138 0 0 0 42,138 M62,-138 A96.6,138 0 0 0 62,138 M80,-138 A96.6,138 0 0 0 80,138 "/></g>
<ellipse class="o" cx="617" cy="915" rx="68" ry="112" transform="rotate(27 617 915)"/>
<path class="t" d="M585,830 C560,870 550,930 560,985 M640,810 C650,840 650,870 640,900"/>
<path class="o" d="M575,858 L650,892 C665,900 665,940 640,962 L560,925 C545,900 555,870 575,858 Z"/>
<ellipse class="n" cx="632" cy="928" rx="26" ry="40" transform="rotate(27 632 928)"/>
<ellipse class="n" cx="635" cy="930" rx="10" ry="16" transform="rotate(27 635 930)"/>
<path class="n" d="M540,945 L600,975 M530,985 C545,1000 570,1010 600,1005"/>
<path class="l" d="M640,932 L775,998"/>
<!-- screw 66 -->
<g transform="translate(862,862) rotate(-154.44)">
<path class="o" d="M59.9804,-11 L4.4,-11 Q0,-11 0,-6.6 L0,6.6 Q0,11 4.4,11 L59.9804,11"/>
<path class="t" d="M11.8,-11 Q4.0,0 11.8,11 M20.8,-11 Q13.1,0 20.8,11 M29.8,-11 Q22.1,0 29.8,11 M38.8,-11 Q31.1,0 38.8,11 M47.8,-11 Q40.0,0 47.8,11 M56.8,-11 Q49.0,0 56.8,11 "/>
<path class="o" d="M59.9804,-30 L101.98,-30 A15,30 0 0 1 101.98,30 L59.9804,30 A15,30 0 0 1 59.9804,-30 Z"/>
<ellipse class="n" cx="101.98" cy="0" rx="15" ry="30"/>
</g>
<path class="l" d="M862,862 L915,890"/>
<!-- plate 65 -->
<g transform="translate(617.65,705.88) scale(0.470588)">
<path class="o" d="M200,790 L650,400 L790,160 C810,130 850,120 880,140 L900,190 L895,260 L940,290 L975,410 L1290,260 C1330,250 1370,270 1375,300 L1340,450 L1180,790 L1050,1030 L740,1200 L260,1450 L150,1440 L90,1390 C95,1250 130,1000 200,790 Z"/>
<path class="n" d="M320,790 L660,515 L695,530 L670,625 L365,845 L335,830 Z"/>
<path class="n" d="M735,465 L905,365 L925,400 L885,440 L890,480 L912,500 L750,590 L720,560 Z"/>
<path class="n" d="M715,650 L830,590 L850,612 L800,690 L722,700 Z"/>
<path class="n" d="M950,490 L1290,330 L1310,360 L1230,570 L1150,612 C1130,590 1080,590 1050,632 L1040,682 L940,730 L900,650 Z"/>
<path class="n" d="M800,1112 L960,1012 L1000,1022 L770,1142 Z M1185,655 L1055,960 M1215,650 L1080,975"/>
<path class="n" d="M240,920 L300,930 C250,1100 240,1250 290,1330 L245,1352 C200,1250 200,1080 240,920 Z"/>
<path class="n" d="M410,1270 L610,1165 L680,1050 M430,1310 L740,1150 L790,1040 M610,1165 L660,1190"/>
<path class="n" d="M215,810 L640,440 L780,190 M790,300 L880,255 M230,1400 L740,1160"/>
<ellipse class="n" cx="265" cy="850" rx="28" ry="34" transform="rotate(25 265 850)"/><ellipse class="n" cx="392" cy="915" rx="28" ry="34" transform="rotate(25 392 915)"/><ellipse class="n" cx="1092" cy="686" rx="28" ry="34" transform="rotate(25 1092 686)"/><ellipse class="n" cx="170" cy="1390" rx="24" ry="30" transform="rotate(25 170 1390)"/><ellipse class="n" cx="372" cy="1340" rx="26" ry="32" transform="rotate(25 372 1340)"/>
<path class="o" d="M600,720 C540,770 520,900 580,975 L700,1030 L760,720 Z"/>
<ellipse cx="772" cy="870" rx="128" ry="168" transform="rotate(25 772 870)" style="fill:#fff;stroke:#111;stroke-width:2.4"/>
<ellipse class="n" cx="776" cy="872" rx="108" ry="146" transform="rotate(25 776 872)"/>
<ellipse class="n" cx="782" cy="874" rx="85" ry="120" transform="rotate(25 782 874)"/>
<path class="n" d="M800,770 C850,790 870,850 850,900"/>
<path class="l" d="M800,865 L1165,1050"/>
</g>
<!-- bearing 63 -->
<g transform="translate(1205,1225) rotate(27)">
<path class="o" d="M0,-98 L68,-98 A63.7,98 0 0 1 68,98 L0,98 A63.7,98 0 0 1 0,-98 Z"/>
<ellipse class="n" cx="68" cy="0" rx="63.7" ry="98"/>
</g>
<ellipse class="b" cx="1268" cy="1262" rx="52" ry="80" transform="rotate(27 1268 1262)"/>
<path class="o" d="M1275,1250 L1365,1290 L1352,1318 L1268,1282 Z"/>
<ellipse class="w" cx="1274" cy="1266" rx="10" ry="15"/>
<!-- pin 64 -->
<g transform="translate(990,1388) rotate(27)">
<path class="o" d="M0,-25 L80,-25 A12.5,25 0 0 1 80,25 L0,25 A12.5,25 0 0 1 0,-25 Z"/>
<ellipse class="n" cx="80" cy="0" rx="12.5" ry="25"/>
</g>
</g>
<g transform="translate(540,920) scale(0.280002)">
<path class="l" d="M190,145 L190,285 M402,250 L402,370 M548,330 L548,455 M620,80 L620,150 M935,140 L935,325 M1395,735 L1395,825 M1190,1133 L1250,1133 M550,1235 L660,1235 M555,1330 L845,1330"/>
<path class="l" d="M0,300 L500,558 M0,455 L340,635 M0,570 L210,690 M75,760 L140,795 M340,378 L365,392 M430,425 L450,437 M565,495 L600,512"/>
<path class="l" d="M685,1115 L685,1150 M770,1115 L770,1500 M860,1080 L860,1255 M545,1020 L1500,1507"/>
<path class="l" d="M1290,1200 L1290,1240 L1450,1160 L1450,1290"/>
<!-- washer 35 -->
<g transform="translate(-10,-5)"><ellipse class="o" cx="400" cy="410" rx="36" ry="44" transform="rotate(25 400 410)"/></g>
<ellipse class="o" cx="400" cy="410" rx="36" ry="44" transform="rotate(25 400 410)"/>
<ellipse class="n" cx="402" cy="411" rx="17" ry="23" transform="rotate(25 402 411)"/>
<!-- spring 36 -->
<g transform="translate(452,445) rotate(24)"><path class="n" d="M0,-30 A12,30 0 0 0 0,30 M20,-32 A12,32 0 0 0 20,32 A12,32 0 0 0 28,-20 M42,-32 A12,32 0 0 0 42,32 A12,32 0 0 0 50,-20 M64,-32 A12,32 0 0 0 64,32 A12,32 0 0 0 72,-20 M86,-32 A12,32 0 0 0 86,32 A12,32 0 0 0 94,-20 M108,-28 A10,26 0 0 0 108,26 A10,26 0 0 0 116,-16"/></g>
<!-- frame 38: lower open frame first -->
<g transform="translate(500,571.4) scale(0.57143)">
<path class="o" d="M460,420 L1030,110 L1040,140 L960,205 L1140,290 L1150,310 L1350,410 L1250,520 L1240,545 L1170,580 L1110,600 L470,950 L400,985 L20,780 L130,560 Z"/>
<path class="n" d="M960,205 L1140,290 L1145,540 M1160,340 L1310,410 L1240,495 M1150,310 L1150,350 M460,935 L1130,585 L1215,545 M480,952 L1120,615 M50,750 L420,955 M70,792 L400,985"/>
<path class="t" d="M700,350 L1215,620 M300,550 L740,760 M720,330 L1080,500 M800,290 L1010,390"/>
<path class="n" d="M820,240 L1020,340 L1060,330 L1090,345 M800,300 L1000,395 L1030,400 L1020,430"/>
<path class="o" d="M1020,430 L1060,410 L1100,430 L1100,472 L1060,492 L1020,470 Z"/><path class="n" d="M1020,430 L1060,450 L1100,430 M1060,450 L1060,492"/>
<ellipse class="n" cx="1105" cy="350" rx="14" ry="18"/><ellipse class="n" cx="1108" cy="518" rx="14" ry="18"/><ellipse class="n" cx="1228" cy="398" rx="7" ry="9"/>
<path class="n" d="M1085,330 C1095,320 1120,320 1130,335 M1090,500 C1098,488 1125,490 1132,505 L1135,545"/>
<!-- block A -->
<path class="o" d="M600,400 L650,395 L740,440 L745,505 L790,530 L790,560 L745,585 L740,610 L800,640 L800,720 L730,752 L720,745 L560,562 L560,520 Z"/>
<path class="n" d="M560,520 L720,595 L740,610 M720,595 L720,745 M600,400 L600,420 L720,480 L725,540 L745,585 M650,395 L650,415 M720,480 L745,470 M780,495 C790,485 815,485 825,500 C835,515 815,530 795,528"/>
<path class="k" d="M585,545 L715,610 L715,618 L585,553 Z"/>
<ellipse class="n" cx="765" cy="695" rx="14" ry="19"/><ellipse class="n" cx="640" cy="405" rx="22" ry="10"/><ellipse class="n" cx="818" cy="505" rx="14" ry="9"/>
<!-- left plate -->
<path class="o" d="M110,650 L150,638 L380,770 L380,885 L350,892 L110,765 Z"/>
<path class="n" d="M110,650 L350,780 L380,770 M350,780 L350,892"/>
<ellipse class="n" cx="165" cy="652" rx="20" ry="9"/><ellipse class="n" cx="335" cy="740" rx="20" ry="9"/>
<path class="n" d="M20,780 L60,700 C70,690 95,690 100,705 M90,700 L95,770"/>
</g>
<!-- curved front cover -->
<path class="o" d="M365,640 L140,770 C100,820 95,920 110,1000 L185,1050 L470,1132 L495,1120 C490,1050 520,960 600,900 L760,815 L760,795 Z"/>
<path class="n" d="M772,828 L612,915 C540,975 515,1050 510,1115 L495,1120 M185,1050 L180,985 C200,1020 250,1050 300,1050"/>
<path class="t" d="M215,1000 C230,1030 260,1045 290,1048"/>
<!-- top plate -->
<path class="o" d="M365,640 L520,560 L520,545 L545,540 L548,548 L705,465 L1085,650 L760,815 Z"/>
<path class="n" d="M430,605 L520,560"/>
<!-- left rail -->
<path class="o" d="M370,590 L690,745 L715,760 L715,775 L690,790 L665,795 L370,640 Z"/>
<path class="n" d="M370,605 L668,755 L690,745 M668,755 L665,795 M690,790 L760,825 M715,775 L760,800"/>
<!-- part 58 -->
<path class="o" d="M965,1055 L1390,830 L1440,815 L1452,830 L1440,850 L1440,880 L970,1112 L960,1100 Z"/>
<path class="n" d="M978,1072 L1080,1020 L1100,1030 L1360,890 L1385,850 L1440,850 M1000,1060 L1090,1000 L1105,1005 L1360,872 L1375,845 C1385,835 1400,835 1405,845 M978,1072 L980,1105 M1385,850 L1385,905"/>
<ellipse class="n" cx="1240" cy="950" rx="5" ry="7"/>
<!-- part 57 -->
<path class="n" d="M1335,1178 C1350,1170 1365,1180 1358,1195 L1340,1200"/>
<ellipse class="o" cx="1290" cy="1185" rx="42" ry="18"/><ellipse class="o" cx="1290" cy="1170" rx="42" ry="18"/>
<path class="o" d="M1245,1128 L1245,1155 A45,20 0 0 0 1335,1155 L1335,1128 Z"/>
<ellipse class="o" cx="1290" cy="1128" rx="45" ry="22"/>
<path class="n" d="M1262,1135 C1262,1122 1280,1118 1292,1120"/>
<!-- screws 59, 60 -->
<g transform="translate(685,1150) rotate(90.00)">
<path class="o" d="M78,-11 L4.4,-11 Q0,-11 0,-6.6 L0,6.6 Q0,11 4.4,11 L78,11"/>
<path class="t" d="M11.8,-11 Q4.0,0 11.8,11 M20.8,-11 Q13.1,0 20.8,11 M29.8,-11 Q22.1,0 29.8,11 M38.8,-11 Q31.1,0 38.8,11 M47.8,-11 Q40.0,0 47.8,11 M56.8,-11 Q49.0,0 56.8,11 M65.8,-11 Q58.0,0 65.8,11 M74.8,-11 Q67.0,0 74.8,11 "/>
<path class="o" d="M78,-30 L108,-30 A15,30 0 0 1 108,30 L78,30 A15,30 0 0 1 78,-30 Z"/>
<ellipse class="n" cx="108" cy="0" rx="15" ry="30"/>
</g>
<g transform="translate(860,1258) rotate(90.00)">
<path class="o" d="M88,-13 L5.2,-13 Q0,-13 0,-7.8 L0,7.8 Q0,13 5.2,13 L88,13"/>
<path class="t" d=""/>
<path class="o" d="M88,-32 L122,-32 A16,32 0 0 1 122,32 L88,32 A16,32 0 0 1 88,-32 Z"/>
<ellipse class="n" cx="122" cy="0" rx="16" ry="32"/>
</g>
<path class="n" d="M830,1362 A32,14 0 0 0 892,1362 M830,1372 A32,14 0 0 0 892,1372"/>
</g>
<g transform="translate(720,980) scale(0.16)">
<!-- slots -->
<path class="n" d="M535,815 L690,748 C712,742 720,760 700,772 L548,840 C525,848 515,826 535,815 Z M272,955 L490,852 C512,846 520,864 500,876 L285,980 C262,988 252,966 272,955 Z"/>
<!-- bracket with holes -->
<path class="o" d="M185,540 L245,498 L690,715 L690,740 L615,768 L185,550 Z"/>
<path class="n" d="M200,546 L615,752 L685,722 M615,752 L615,768"/>
<ellipse class="n" cx="250" cy="540" rx="24" ry="14"/><ellipse class="n" cx="425" cy="630" rx="24" ry="14"/><ellipse class="n" cx="585" cy="713" rx="24" ry="14"/>
<path class="n" d="M236,548 A24,14 0 0 0 268,548 M411,638 A24,14 0 0 0 443,638 M571,721 A24,14 0 0 0 603,721"/>
<!-- platform -->
<path class="o" d="M110,400 L700,130 C720,124 735,130 745,138 L1385,505 C1410,520 1418,540 1395,560 L1105,742 L960,655 L835,672 L780,700 L780,790 L735,812 L720,800 L720,755 L690,740 L692,690 L285,470 L215,445 L112,445 Z"/>
<path class="n" d="M110,400 L215,440 L290,405 M215,440 L215,445 M325,385 L780,200 L1240,455 L1228,478 L835,655 M790,216 L1222,462 M340,392 L785,212"/>
<path class="n" d="M280,385 L295,375 L800,650 L835,655 L835,672 M280,385 L282,410 L740,665 L742,678 L718,668 L692,690 M300,392 L790,660 M740,665 L770,650 M745,690 L745,725 L780,740 M720,700 L745,690 M720,755 L720,700"/>
<path class="n" d="M1000,632 L1105,690 L1395,520 M1105,690 L1105,742 M960,655 L1000,632 L995,600"/>
<path class="t" d="M570,505 L820,400 M960,340 L1010,320"/>
<ellipse class="o" cx="890" cy="368" rx="80" ry="46"/>
<path class="o" d="M812,360 C812,330 850,312 893,312 C935,312 972,330 970,360"/>
<ellipse class="n" cx="895" cy="345" rx="52" ry="26"/><ellipse class="n" cx="896" cy="346" rx="30" ry="14"/>
<path class="l" d="M896,346 L896,115 L1193,268 L1193,145"/>
</g>
<g transform="translate(900,340) scale(0.113334)">
<!-- part 1 end cover -->
<path class="o" d="M1135,105 C1200,120 1262,165 1272,215 L1310,420 L1345,580 L1385,700 C1392,770 1350,850 1270,895 L455,1405 L370,1360 L335,1330 L325,1265 L255,1200 L285,1110 L305,905 L210,945 C130,900 80,790 110,715 L170,690 L340,595 L330,575 L400,520 L420,470 L440,455 Z"/>
<path class="n" d="M500,500 L1190,160 C1230,150 1265,185 1272,215"/>
<path class="n" d="M420,470 L500,500 L495,540 M400,520 L470,545"/>
<path class="t" d="M340,575 L430,610 M330,575 C360,545 420,560 440,590"/>
<path class="n" d="M215,718 L560,570 L1005,350 C1080,325 1150,325 1165,295 L1178,262"/>
<path class="n" d="M170,690 L215,718 L205,740 L160,722 C130,760 150,860 215,905 L430,850"/>
<path class="t" d="M300,690 C320,760 360,800 400,815"/>
<path class="n" d="M1008,282 L1138,212 L1142,292 Z"/>
<path class="t" d="M1060,265 L1120,270 L1138,215"/>
<ellipse class="o" cx="1215" cy="225" rx="28" ry="36" transform="rotate(20 1215 225)"/>
<path class="n" d="M1195,300 L1255,282 L1350,690 C1352,730 1345,760 1335,775 M1195,300 C1235,380 1280,540 1295,700 L1330,715"/>
<path class="t" d="M1215,300 C1250,380 1300,560 1310,700"/>
<ellipse class="n" cx="1262" cy="842" rx="48" ry="66" transform="rotate(25 1262 842)"/>
<ellipse class="n" cx="1268" cy="848" rx="24" ry="36" transform="rotate(25 1268 848)"/>
<path class="n" d="M1290,700 L1270,760 M1330,715 L1322,770"/>
<!-- big recess -->
<path class="n" d="M575,565 C500,700 470,800 545,850 C520,1000 560,1120 680,1185 C850,1180 1120,980 1215,760 C1275,600 1230,360 1010,348"/>
<path class="n" d="M1140,385 C1210,470 1200,640 1130,790 C1040,960 820,1130 640,1140 C560,1100 520,980 545,850"/>
<path class="t" d="M1180,620 C1150,760 1100,850 1050,900 M1230,600 C1215,720 1190,800 1150,870"/>
<path class="t" d="M575,565 C530,640 490,740 485,790"/>
<!-- bearing boss -->
<ellipse class="n" cx="825" cy="720" rx="130" ry="195" transform="rotate(28 825 720)"/>
<ellipse class="n" cx="850" cy="735" rx="95" ry="150" transform="rotate(28 850 735)"/>
<ellipse class="t" cx="855" cy="738" rx="82" ry="135" transform="rotate(28 855 738)"/>
<ellipse class="n" cx="862" cy="742" rx="68" ry="118" transform="rotate(28 862 742)"/>
<!-- left ribs / foot -->
<path class="n" d="M430,850 L545,850 M305,905 L430,850 M470,860 L400,1110 L380,1250 M510,865 L440,1100 C470,1060 500,1040 520,1030 M440,1100 L420,1230"/>
<path class="n" d="M255,1200 L345,1245 L325,1265 M345,1245 L390,1255 C420,1180 470,1190 490,1215 C500,1250 470,1290 440,1275"/>
<ellipse class="n" cx="462" cy="1225" rx="26" ry="36" transform="rotate(20 462 1225)"/>
<path class="n" d="M340,1262 C340,1310 360,1340 455,1385 L700,1240 M455,1385 L455,1405"/>
<path class="t" d="M380,1310 L640,1195"/>
<path class="n" d="M1180,945 L1130,960 L1160,930"/>
</g>
<g transform="translate(1025,410) scale(0.08)">
<!-- fan 3 + screw 4 -->
<ellipse class="o" cx="611" cy="675" rx="383" ry="594" transform="rotate(37.3 611 675)"/>
<path class="o" d="M810,165 L900,195 L790,430 L720,400 Z"/>
<path class="o" d="M900,220 L1050,275 L870,480 L800,440 Z"/>
<path class="k" d="M880,190 L905,200 L800,430 L775,420 Z M1035,275 L1060,290 L880,480 L855,465 Z"/>
<path class="t" d="M990,250 L830,460"/>
<path class="o" d="M440,890 L480,920 L300,1130 L240,1100 Z"/>
<path class="o" d="M500,930 L575,960 L460,1220 L380,1190 Z"/>
<path class="k" d="M460,915 L485,925 L310,1135 L285,1120 Z M552,955 L578,965 L470,1222 L445,1212 Z"/>
<path class="t" d="M470,960 L390,1170 M400,880 L245,1060"/>
<path class="o" d="M605,210 L690,225 L690,470 L605,455 Z"/><path class="n" d="M650,240 L650,462"/>
<path class="o" d="M385,400 L440,420 L575,570 L545,590 L400,440 Z"/>
<path class="o" d="M240,630 L440,640 L490,680 L480,700 L290,690 Z"/>
<path class="o" d="M175,920 L410,780 L455,810 L440,840 L230,950 Z"/>
<path class="o" d="M605,920 L640,890 L690,930 L690,1165 L615,1150 Z"/><path class="n" d="M650,925 L652,1155"/>
<path class="o" d="M710,810 L770,830 L900,975 L880,1005 L730,850 Z"/>
<path class="o" d="M810,690 L860,680 L1060,720 L1050,750 L860,735 Z"/>
<path class="o" d="M840,570 L1090,445 L1115,470 L880,600 Z"/>
<path class="n" d="M770,560 L790,680 M590,855 L670,825 M960,780 L975,760 M880,910 L905,885"/>
<ellipse class="n" cx="705" cy="730" rx="55" ry="78" transform="rotate(17 705 730)"/>
<path class="o" d="M715,685 L800,735 L770,790 L690,765 C675,740 690,690 715,685 Z"/>
<path class="l" d="M790,765 L1030,895"/>
<g transform="translate(1030,900) rotate(23.17)">
<path class="o" d="M190.015,-30 L12,-30 Q0,-30 0,-18 L0,18 Q0,30 12,30 L190.015,30"/>
<path class="t" d="M36.0,-30 Q15.0,0 36.0,30 M64.5,-30 Q43.5,0 64.5,30 M93.0,-30 Q72.0,0 93.0,30 M121.5,-30 Q100.5,0 121.5,30 M150.0,-30 Q129.0,0 150.0,30 M178.5,-30 Q157.5,0 178.5,30 "/>
<path class="o" d="M190.015,-82 L310.015,-82 A41,82 0 0 1 310.015,82 L190.015,82 A41,82 0 0 1 190.015,-82 Z"/>
<ellipse class="n" cx="310.015" cy="0" rx="41" ry="82"/>
<path class="t" d="M281.315,0 L338.715,0 M310.015,-57.4 L310.015,57.4"/>
</g>
</g>
<g transform="translate(540,690) scale(0.226667)">
<path class="l" d="M275,510 L275,610 M430,620 L430,700 M765,1110 L765,1210"/>
<!-- part 32 -->
<path class="n" d="M180,395 L130,420 L110,425 M180,440 L135,462 L115,470 M150,405 L150,470 M165,400 L170,465"/>
<path class="o" d="M190,215 L240,125 L330,85 L352,92 L352,165 L440,115 L458,122 L458,270 L250,385 L215,480 L190,470 Z"/>
<path class="n" d="M205,215 L250,140 L335,100 M205,215 L205,470 M240,125 L250,170 L205,195"/>
<path class="o" d="M215,480 L250,385 L500,250 L545,250 L575,320 L545,335 L540,360 L250,515 Z"/>
<path class="n" d="M232,478 L262,400 L505,265 M232,478 L255,498"/>
<ellipse class="n" cx="515" cy="287" rx="12" ry="15"/><ellipse class="n" cx="515" cy="345" rx="12" ry="15"/><ellipse class="n" cx="245" cy="483" rx="12" ry="15"/>
<!-- part 33 -->
<path class="n" d="M470,608 C470,640 455,660 445,675 M530,580 C530,600 540,615 552,622"/>
<path class="o" d="M405,525 L520,470 L560,485 L560,565 L445,620 L405,605 Z"/>
<path class="n" d="M405,525 L445,545 L560,485 M445,545 L445,620"/>
<!-- part 37 -->
<path class="o" d="M940,280 L1225,140 L1275,150 L1320,180 L1295,345 L1070,460 L835,830 L905,820 L975,850 L930,1045 L650,1125 L580,1075 L560,1050 L570,1020 L590,1010 L590,965 L555,940 L550,830 L570,800 L690,610 L800,440 Z"/>
<path class="n" d="M960,272 C850,400 720,600 615,870 L620,1095 L650,1125 M1225,140 L965,268 M1035,300 L1290,180 M1005,375 L1000,400 L740,690 M1005,375 L1285,290 L1300,300 M835,830 L800,880 L820,922 L975,850 M1285,200 L1260,320"/>
<path class="n" d="M985,290 L1232,168 L1272,175 L1298,195 M985,290 C875,415 745,610 642,878 L646,1100"/>
<path class="t" d="M985,410 C880,520 760,700 650,900 M590,965 L615,985"/>
<path class="n" d="M878,645 C920,620 980,595 1010,590 C980,625 930,660 900,668 C880,670 870,655 878,645 Z"/>
<g transform="translate(1292,210)"><path class="o" d="M-14,-14 L4,-22 L16,-10 L14,12 L-4,22 L-16,8 Z"/><ellipse class="t" cx="0" cy="0" rx="7" ry="10"/></g>
<g transform="translate(1262,312)"><path class="o" d="M-14,-14 L4,-22 L16,-10 L14,12 L-4,22 L-16,8 Z"/><ellipse class="t" cx="0" cy="0" rx="7" ry="10"/></g>
<g transform="translate(1003,387)"><path class="o" d="M-14,-14 L4,-22 L16,-10 L14,12 L-4,22 L-16,8 Z"/><ellipse class="t" cx="0" cy="0" rx="7" ry="10"/></g>
<g transform="translate(785,662)"><path class="o" d="M-14,-14 L4,-22 L16,-10 L14,12 L-4,22 L-16,8 Z"/><ellipse class="t" cx="0" cy="0" rx="7" ry="10"/></g>
<g transform="translate(852,987)"><path class="o" d="M-14,-14 L4,-22 L16,-10 L14,12 L-4,22 L-16,8 Z"/><ellipse class="t" cx="0" cy="0" rx="7" ry="10"/></g>
</g>
<g transform="translate(860,990) scale(0.280002)">
<path class="l" d="M690,140 L690,255 M985,290 L985,335 M1262,440 L1262,550 M405,485 L405,540 M542,485 L542,600 M1310,960 L1310,1025 M650,1200 L745,1155 M235,1470 L235,1500"/>
<path class="l" d="M630,290 L600,275 L600,685 L545,660 M1270,628 L1365,675 L775,775 L885,830 M700,320 L745,345 M415,590 L475,620 M885,830 L1070,930 M865,1105 L955,1155 M1115,1130 L1270,1210 M0,1075 L510,1335 L510,1500"/>
<!-- washer 42 -->
<g transform="translate(-14,-7)"><ellipse class="o" cx="695" cy="318" rx="48" ry="62" transform="rotate(27 695 318)"/></g>
<ellipse class="o" cx="695" cy="318" rx="48" ry="62" transform="rotate(27 695 318)"/>
<ellipse class="o" cx="692" cy="316" rx="28" ry="40" transform="rotate(27 692 316)"/>
<path class="n" d="M668,300 C665,325 675,345 690,352"/>
<path class="l" d="M700,320 L745,345"/>
<!-- roller 43 -->
<g transform="translate(806,380) rotate(27)">
<path class="o" d="M0,-103 L335,-103 A82.4,103 0 0 1 335,103 L0,103 A82.4,103 0 0 1 0,-103 Z"/>
<ellipse class="n" cx="335" cy="0" rx="82.4" ry="103"/>
</g>
<g transform="translate(806,380) rotate(27)"><path class="n" d="M20,-103 A82.4,103 0 0 0 20,103 M40,-103 A82.4,103 0 0 0 40,103 M60,-103 A82.4,103 0 0 0 60,103 M80,-103 A82.4,103 0 0 0 80,103 M100,-103 A82.4,103 0 0 0 100,103 M120,-103 A82.4,103 0 0 0 120,103 M140,-103 A82.4,103 0 0 0 140,103 M160,-103 A82.4,103 0 0 0 160,103 M180,-103 A82.4,103 0 0 0 180,103 M200,-103 A82.4,103 0 0 0 200,103 M220,-103 A82.4,103 0 0 0 220,103 M240,-103 A82.4,103 0 0 0 240,103 M260,-103 A82.4,103 0 0 0 260,103 M280,-103 A82.4,103 0 0 0 280,103 M300,-103 A82.4,103 0 0 0 300,103 M320,-103 A82.4,103 0 0 0 320,103 "/></g>
<ellipse class="n" cx="1100" cy="528" rx="60" ry="86" transform="rotate(27 1100 528)"/>
<ellipse class="o" cx="1095" cy="528" rx="42" ry="60" transform="rotate(27 1095 528)"/>
<ellipse class="n" cx="1098" cy="530" rx="28" ry="40" transform="rotate(27 1098 530)"/>
<ellipse class="n" cx="1102" cy="532" rx="14" ry="20" transform="rotate(27 1102 532)"/>
<path class="n" d="M1100,460 L1130,455 L1150,470 L1145,490 L1120,492 M1030,575 L1025,600 L1045,615 L1060,600"/>
<path class="l" d="M1110,537 L1215,590 M1265,617 L1300,634"/>
<!-- washer 44 -->
<g transform="translate(-8,-4)"><ellipse class="o" cx="1258" cy="612" rx="48" ry="62" transform="rotate(27 1258 612)"/></g>
<ellipse class="o" cx="1258" cy="612" rx="48" ry="62" transform="rotate(27 1258 612)"/>
<ellipse class="n" cx="1260" cy="614" rx="18" ry="26" transform="rotate(27 1260 614)"/>
<!-- e-ring 40 -->
<path d="M420,548 C400,540 372,560 370,585 C370,605 390,618 410,606" style="fill:none;stroke:#111;stroke-width:3;stroke-linecap:round"/>
<path class="n" d="M395,548 L410,538 L420,548 M428,560 C440,572 438,590 430,600"/>
<!-- lever 41 -->
<path class="o" d="M400,675 L545,603 C575,600 595,625 585,660 C575,690 550,700 535,700 L455,690 L440,700 L730,850 L745,835 L880,780 C910,775 925,800 918,825 C905,860 870,880 850,880 L770,870 L760,900 L720,912 L695,895 L690,885 L580,945 L530,905 L495,895 L400,850 L490,800 L490,770 L370,715 Z"/>
<ellipse class="n" cx="545" cy="655" rx="17" ry="23" transform="rotate(27 545 655)"/><ellipse class="n" cx="875" cy="828" rx="17" ry="23" transform="rotate(27 875 828)"/>
<path class="n" d="M530,640 C525,655 530,670 540,678 M860,812 C855,828 860,845 870,852"/>
<!-- spring + channel -->
<path class="o" d="M250,1010 L300,1030 L320,1020 L330,1055 L690,890 L690,935 L330,1122 L320,1095 L290,1110 L300,1135 L335,1130 L680,950"/>
<path class="o" d="M290,1110 L320,1095 L330,1120 L690,935 L690,890 L580,945 L575,970 L380,1065 L330,1055 L320,1020 L300,1030 L250,1010 L250,1045 L300,1062 L305,1035"/>
<path class="n" d="M290,1110 L300,1135 L335,1130 L690,950 L690,935 M300,1062 L330,1055"/>
<path class="n" d="M605,955 L665,925 L668,945 L612,975 Z M625,945 L628,965"/>
<path class="n" d="M320,1005 L385,975 M325,1020 L390,990 M340,1010 C335,1018 340,1024 350,1020"/>
<g transform="translate(412,985) rotate(-25.11)">
<ellipse class="o" cx="0.0" cy="0" rx="20.7" ry="46"/>
<ellipse class="o" cx="23.6" cy="0" rx="20.7" ry="46"/>
<ellipse class="o" cx="47.1" cy="0" rx="20.7" ry="46"/>
<ellipse class="o" cx="70.7" cy="0" rx="20.7" ry="46"/>
<ellipse class="o" cx="94.2" cy="0" rx="20.7" ry="46"/>
<ellipse class="o" cx="117.8" cy="0" rx="20.7" ry="46"/>
<ellipse class="o" cx="141.4" cy="0" rx="20.7" ry="46"/>
</g>
<path class="o" d="M560,905 L600,935 L585,950 L545,925 Z"/>
<!-- clips 56 -->
<path class="o" d="M670,1075 L740,1045 L800,975 L820,960 L830,985 L820,1015 L760,1080 L700,1110 L672,1110 Z"/>
<path class="n" d="M670,1075 L700,1080 L760,1050 L810,990 L830,985 M700,1080 L700,1110"/>
<path class="o" d="M740,1115 L810,1085 L870,1015 L890,1000 L900,1025 L890,1055 L830,1120 L770,1150 L742,1150 Z"/>
<path class="n" d="M740,1115 L770,1120 L830,1090 L880,1030 L900,1025 M770,1120 L770,1150"/>
<!-- pin 45 -->
<g transform="translate(1445,1125) rotate(207)">
<path class="o" d="M0,-22 L400,-22 A11,22 0 0 1 400,22 L0,22 A11,22 0 0 1 0,-22 Z"/>
<ellipse class="n" cx="400" cy="0" rx="11" ry="22"/>
<path class="o" d="M400,-14 L415,-14 A7,14 0 0 1 415,14 L400,14 A7,14 0 0 1 400,-14 Z"/>
<ellipse class="n" cx="415" cy="0" rx="7" ry="14"/>
</g>
<g transform="translate(1445,1125) rotate(27)"><ellipse class="o" cx="0" cy="0" rx="11" ry="22"/></g>
<!-- plate 49 -->
<path class="o" d="M715,1365 L885,1265 L885,1205 L1115,1085 L1140,1095 L1140,1230 L745,1440 L715,1430 Z"/>
<path class="n" d="M1140,1095 L1140,1230"/>
<ellipse class="n" cx="1107" cy="1132" rx="9" ry="12"/><ellipse class="n" cx="1107" cy="1212" rx="9" ry="12"/><ellipse class="n" cx="905" cy="1318" rx="9" ry="12"/>
<path class="l" d="M1115,1132 L1270,1210 M790,1420 L790,1500"/>
</g>
<g transform="translate(540,1280) scale(0.306664)">
<path class="l" d="M0,235 L75,192 M300,305 L195,358 M1025,385 L1025,460 M938,850 L938,930 M1258,395 L1258,500 M1367,555 L1367,665"/>
<path class="l" d="M60,335 L125,365 M210,405 L320,462 M705,0 L705,335 M705,570 L705,770 M880,540 L905,530 L1075,615 L1140,583 M1180,562 L1215,545"/>
<!-- spacer 61 -->
<g transform="translate(148,372) rotate(27)">
<path class="o" d="M0,-28 L58,-28 A16.8,28 0 0 1 58,28 L0,28 A16.8,28 0 0 1 0,-28 Z"/>
<ellipse class="n" cx="58" cy="0" rx="16.8" ry="28"/>
</g>
<ellipse class="n" cx="200" cy="399" rx="9" ry="14" transform="rotate(27 200 399)"/>
<!-- A box -->
<path class="b" d="M320,465 L420,415 L420,520 L320,575 Z"/>
<text transform="matrix(0.96,-0.48,0,1.22,370,545)" x="0" y="0" style="fill:#fff;font-size:125px;text-anchor:middle">A</text>
<!-- plate 55 -->
<path class="o" d="M388,375 L770,170 L825,108 L1150,278 L1095,340 L700,548 Z"/>
<path class="n" d="M770,170 L1085,335 M388,375 L392,386 L702,558 L1097,350 L1095,340"/>
<ellipse class="n" cx="845" cy="150" rx="9" ry="13" transform="rotate(27 845 150)"/><ellipse class="n" cx="930" cy="195" rx="9" ry="13" transform="rotate(27 930 195)"/><ellipse class="n" cx="1018" cy="240" rx="9" ry="13" transform="rotate(27 1018 240)"/><ellipse class="n" cx="1103" cy="287" rx="9" ry="13" transform="rotate(27 1103 287)"/>
<!-- plate 54 -->
<path class="o" d="M350,812 L770,590 L825,527 L1150,697 L1095,760 L668,985 Z"/>
<path class="n" d="M770,590 L1085,755 M350,812 L354,823 L670,995 L1097,770 L1095,760"/>
<ellipse class="n" cx="840" cy="563" rx="9" ry="13" transform="rotate(27 840 563)"/><ellipse class="n" cx="925" cy="608" rx="9" ry="13" transform="rotate(27 925 608)"/><ellipse class="n" cx="1013" cy="653" rx="9" ry="13" transform="rotate(27 1013 653)"/><ellipse class="n" cx="1098" cy="698" rx="9" ry="13" transform="rotate(27 1098 698)"/>
<path class="l" d="M705,180 L705,335 M705,600 L705,770"/>
<!-- plate 53 -->
<path class="o" d="M1118,545 L1445,710 L1445,750 L1118,580 Z"/>
<path class="n" d="M1128,560 L1435,718 L1435,745 M1128,560 L1128,585"/>
<ellipse class="n" cx="1147" cy="582" rx="9" ry="12"/><ellipse class="n" cx="1230" cy="626" rx="9" ry="12"/><ellipse class="n" cx="1318" cy="671" rx="9" ry="12"/><ellipse class="n" cx="1398" cy="713" rx="9" ry="12"/>
<!-- screw 52 -->
<g transform="translate(1215,546) rotate(-27.85)">
<path class="o" d="M37.9416,-9 L3.6,-9 Q0,-9 0,-5.4 L0,5.4 Q0,9 3.6,9 L37.9416,9"/>
<path class="t" d="M9.2,-9 Q3.0,0 9.2,9 M16.2,-9 Q9.9,0 16.2,9 M23.2,-9 Q16.9,0 23.2,9 M30.2,-9 Q23.9,0 30.2,9 M37.2,-9 Q30.9,0 37.2,9 "/>
<path class="o" d="M37.9416,-18 L59.9416,-18 A9,18 0 0 1 59.9416,18 L37.9416,18 A9,18 0 0 1 37.9416,-18 Z"/>
<ellipse class="n" cx="59.9416" cy="0" rx="9" ry="18"/>
</g>
</g>
<g transform="translate(980,1250) scale(0.306664)">
<path class="l" d="M1042,150 L1042,345 M1350,312 L1350,555 M328,452 L328,550 M250,672 L250,760 M515,808 L515,835 M128,868 L128,950"/>
<path class="l" d="M1135,440 L1295,530 M74,378 L74,720 L205,790 M270,825 L365,875"/>
<!-- plate 47 -->
<path class="o" d="M458,432 L825,238 L1135,398 L1138,530 L762,725 L745,715 L745,600 L462,443 Z"/>
<path class="n" d="M458,432 L745,590 L1135,398 M745,590 L745,600 M762,602 L762,725"/>
<path class="t" d="M940,502 L1100,412"/>
<path class="n" d="M768,595 L912,525 L915,580 L770,655 Z M778,603 L905,540 L905,575"/>
<ellipse class="n" cx="1105" cy="438" rx="10" ry="13" transform="rotate(27 1105 438)"/><ellipse class="n" cx="1105" cy="513" rx="10" ry="13" transform="rotate(27 1105 513)"/><ellipse class="n" cx="922" cy="608" rx="10" ry="13" transform="rotate(27 922 608)"/>
<path class="l" d="M1112,440 L1295,532"/>
<g transform="translate(1300,540) rotate(25.51)">
<path class="o" d="M63.509,-10 L4,-10 Q0,-10 0,-6 L0,6 Q0,10 4,10 L63.509,10"/>
<path class="t" d="M10.5,-10 Q3.5,0 10.5,10 M18.5,-10 Q11.5,0 18.5,10 M26.5,-10 Q19.5,0 26.5,10 M34.5,-10 Q27.5,0 34.5,10 M42.5,-10 Q35.5,0 42.5,10 M50.5,-10 Q43.5,0 50.5,10 M58.5,-10 Q51.5,0 58.5,10 "/>
<path class="o" d="M63.509,-24 L97.509,-24 A12,24 0 0 1 97.509,24 L63.509,24 A12,24 0 0 1 63.509,-24 Z"/>
<ellipse class="n" cx="97.509" cy="0" rx="12" ry="24"/>
<path class="t" d="M89.109,0 L105.909,0 M97.509,-16.8 L97.509,16.8"/>
</g>
<!-- ring 50 -->
<g transform="translate(-18,-9)"><ellipse class="o" cx="280" cy="835" rx="58" ry="72" transform="rotate(27 280 835)"/></g>
<path class="w" d="M245,770 L300,760 L320,900 L260,905 Z"/>
<ellipse class="o" cx="280" cy="835" rx="58" ry="72" transform="rotate(27 280 835)"/>
<ellipse class="n" cx="278" cy="834" rx="46" ry="60" transform="rotate(27 278 834)"/>
<path class="n" d="M292,780 C305,810 300,850 275,885"/>
<path class="l" d="M270,825 L365,875"/>
<!-- key 51 -->
<path class="o" d="M108,838 L135,830 L150,845 L150,860 L122,866 L108,852 Z"/><path class="n" d="M108,838 L122,852 L150,845 M122,852 L122,866"/>
<!-- roller 48 -->
<g transform="translate(365,880) rotate(27)">
<path class="o" d="M0,-24 L70,-24 A12,24 0 0 1 70,24 L0,24 A12,24 0 0 1 0,-24 Z"/>
<ellipse class="n" cx="70" cy="0" rx="12" ry="24"/>
</g>
<g transform="translate(365,880) rotate(27)"><path class="n" d="M-4.6,-22.2 L65.4,-22.2 M-11.1,-9.2 L58.9,-9.2 M-11.1,9.2 L58.9,9.2 M-4.6,22.2 L65.4,22.2 "/></g>
<g transform="translate(452,925) rotate(27)">
<path class="o" d="M0,-102 L362,-102 A73.44,102 0 0 1 362,102 L0,102 A73.44,102 0 0 1 0,-102 Z"/>
<ellipse class="n" cx="362" cy="0" rx="73.44" ry="102"/>
</g>
<ellipse class="n" cx="772" cy="1086" rx="58" ry="84" transform="rotate(27 772 1086)"/>
<ellipse class="n" cx="768" cy="1084" rx="36" ry="54" transform="rotate(27 768 1084)"/>
<ellipse class="n" cx="766" cy="1084" rx="26" ry="40" transform="rotate(27 766 1084)"/>
<ellipse class="n" cx="764" cy="1084" rx="15" ry="24" transform="rotate(27 764 1084)"/>
<path class="n" d="M775,1025 L800,1022 L808,1035 L795,1045 M720,1120 L722,1140 L735,1145"/>
</g>
<g transform="translate(820,880) scale(0.106667)">
<path class="l" d="M770,290 L770,450"/>
<!-- knob 39 -->
<path class="o" d="M785,1020 L785,1100 C800,1138 905,1138 920,1100 L920,1020 Z"/>
<path class="n" d="M785,1062 C810,1085 895,1085 920,1062 M785,1082 C810,1105 895,1105 920,1082"/>
<path class="o" d="M680,860 C685,930 690,970 705,990 C750,1035 950,1035 1000,990 C1015,970 1020,930 1025,860 Z"/>
<path class="o" d="M520,650 C540,520 700,445 850,445 C1000,445 1160,520 1185,650 L1185,725 C1140,815 1000,872 850,874 C700,872 560,815 520,725 Z"/>
<path class="n" d="M520,650 C570,770 700,830 850,832 C1000,830 1130,770 1185,650 M560,628 C600,740 720,792 850,794 C980,792 1100,740 1145,628"/>
<path class="n" d="M1180,706 L1180,746 M1174,722 L1174,762 M1163,737 L1163,777 M1149,752 L1149,792 M1131,766 L1131,806 M1110,779 L1110,819 M1085,790 L1085,830 M1057,801 L1057,841 M1027,810 L1027,850 M994,818 L994,858 M960,824 L960,864 M924,828 L924,868 M887,831 L887,871 M850,832 L850,872 M813,831 L813,871 M776,828 L776,868 M740,824 L740,864 M706,818 L706,858 M673,810 L673,850 M643,801 L643,841 M615,790 L615,830 M590,779 L590,819 M569,766 L569,806 M551,752 L551,792 M537,737 L537,777 M526,722 L526,762 M520,706 L520,746 "/>
</g>
<g transform="translate(480,1300) scale(0.12)">
<path class="l" d="M400,470 L500,420 M690,690 L820,765"/>
<!-- part 62 -->
<g transform="translate(235,483) rotate(27)">
<path class="o" d="M0,-40 L100,-40 A18,40 0 0 1 100,40 L0,40 A18,40 0 0 1 0,-40 Z"/>
<ellipse class="n" cx="100" cy="0" rx="18" ry="40"/>
<path class="o" d="M100,-37 L250,-37 A16.65,37 0 0 1 250,37 L100,37 A16.65,37 0 0 1 100,-37 Z"/>
<ellipse class="n" cx="250" cy="0" rx="16.65" ry="37"/>
</g>
<g transform="translate(235,483) rotate(27)"><path class="n" d="M30,-40 A18,40 0 0 0 30,40 M55,-40 A18,40 0 0 0 55,40 M80,-40 A18,40 0 0 0 80,40 "/></g>
<g transform="translate(235,483) rotate(27)">
<path class="o" d="M245,-82 L415,-82 A41,82 0 0 1 415,82 L245,82 A41,82 0 0 1 245,-82 Z"/>
<ellipse class="n" cx="415" cy="0" rx="41" ry="82"/>
</g>
<g transform="translate(235,483) rotate(27)"><path class="n" d="M239.2,-81.2 L409.2,-81.2 M228.0,-74.6 L398.0,-74.6 M218.2,-62.0 L388.2,-62.0 M210.5,-44.3 L380.5,-44.3 M205.7,-23.1 L375.7,-23.1 M204.0,-0.0 L374.0,-0.0 M205.7,23.1 L375.7,23.1 M210.5,44.3 L380.5,44.3 M218.2,62.0 L388.2,62.0 M228.0,74.6 L398.0,74.6 M239.2,81.2 L409.2,81.2 "/></g>
<g transform="translate(235,483) rotate(27)">
<path class="o" d="M415,-46 L480,-46 A23,46 0 0 1 480,46 L415,46 A23,46 0 0 1 415,-46 Z"/>
<ellipse class="n" cx="480" cy="0" rx="23" ry="46"/>
<path class="o" d="M480,-24 L520,-24 A12,24 0 0 1 520,24 L480,24 A12,24 0 0 1 480,-24 Z"/>
<ellipse class="n" cx="520" cy="0" rx="12" ry="24"/>
</g>
</g>
<g id="labels">
<text x="1020.5" y="311.5">1</text>
<text x="1082" y="345">2</text>
<text x="1125" y="368">4</text>
<text x="1055" y="564">3</text>
<text x="1177" y="395">5</text>
<text x="1282" y="450">6</text>
<text x="1342" y="692">7</text>
<text x="1226" y="753">8</text>
<text x="1117.5" y="771">11</text>
<text x="1245" y="837">10</text>
<text x="1295" y="864">9</text>
<text x="1062" y="741">12</text>
<text x="895" y="847">16</text>
<text x="929" y="864">15</text>
<text x="965.5" y="884">14</text>
<text x="1002.5" y="903">13</text>
<text x="901" y="906">39</text>
<text x="717.5" y="555">17</text>
<text x="441.5" y="493">23</text>
<text x="532" y="447">22</text>
<text x="819.5" y="296">18</text>
<text x="713.5" y="352">19</text>
<text x="683" y="368">20</text>
<text x="627.5" y="396">21</text>
<text x="297.5" y="569">25</text>
<text x="243" y="745.5">27</text>
<text x="148.5" y="795">26</text>
<text x="393.5" y="817.5">28</text>
<text x="455" y="850">29</text>
<text x="296.5" y="985.5">73</text>
<text x="229" y="994.5">72</text>
<text x="508" y="889">31</text>
<text x="592.5" y="956">34</text>
<text x="536.5" y="1028">30</text>
<text x="422" y="1119">71</text>
<text x="451" y="1133">70</text>
<text x="511" y="1165">69</text>
<text x="234" y="1120">68</text>
<text x="413" y="1196.5">67</text>
<text x="440" y="1213.5">66</text>
<text x="468.5" y="1230">65</text>
<text x="532" y="1314.5">63</text>
<text x="652" y="984.5">35</text>
<text x="693" y="1006">36</text>
<text x="711.5" y="981">37</text>
<text x="801" y="953.5">38</text>
<text x="930.5" y="1119.5">58</text>
<text x="858" y="1244">57</text>
<text x="677" y="1273">59</text>
<text x="677" y="1299">60</text>
<text x="576.5" y="1338">62</text>
<text x="602.5" y="844.5">32</text>
<text x="637" y="863">33</text>
<text x="1053" y="1023.5">42</text>
<text x="1136" y="1066">43</text>
<text x="1213.5" y="1107.5">44</text>
<text x="973.5" y="1120">40</text>
<text x="1011" y="1120">41</text>
<text x="1226" y="1252.5">45</text>
<text x="1026" y="1340.5">56</text>
<text x="926" y="1395">52</text>
<text x="644.5" y="1373">61</text>
<text x="853.5" y="1439.5">55</text>
<text x="826.5" y="1583.5">54</text>
<text x="958.5" y="1442.5">53</text>
<text x="1297.5" y="1291">47</text>
<text x="1391" y="1340">46</text>
<text x="1080.5" y="1438">49</text>
<text x="1056" y="1450">50</text>
<text x="1138" y="1492">48</text>
<text x="1019" y="1561">51</text>
<text x="436" y="1428">64</text>

</g>
</svg>
</body></html>
